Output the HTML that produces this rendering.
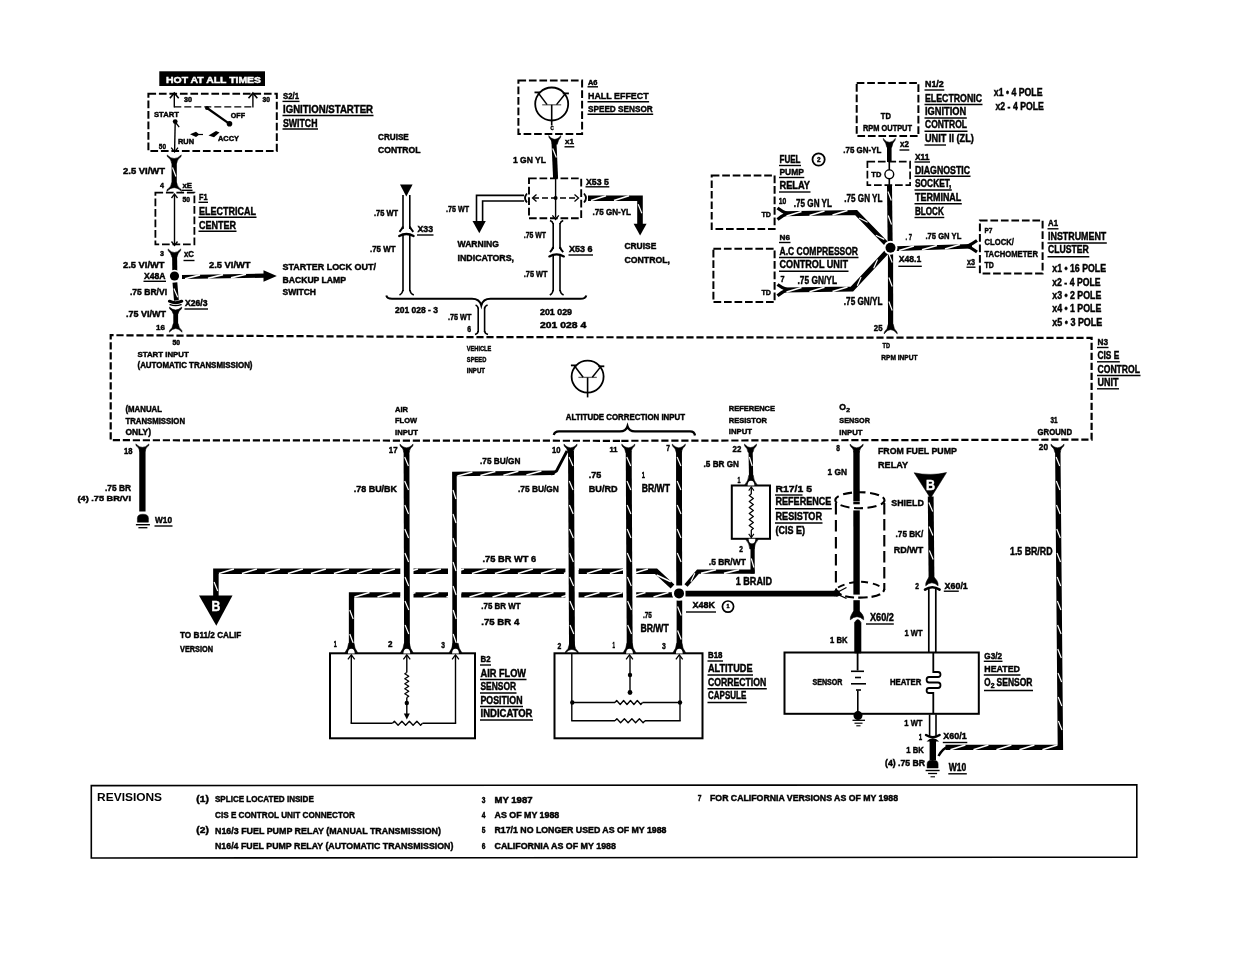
<!DOCTYPE html>
<html lang="en">
<head>
<meta charset="utf-8">
<title>CIS-E Control Unit Wiring Diagram</title>
<style>
html,body{margin:0;padding:0;background:#fff;}
body{width:1237px;height:954px;overflow:hidden;}
svg{display:block;filter:blur(.35px);}
.tn{font-family:"Liberation Sans",sans-serif;font-weight:bold;stroke-width:0;}
.t{font-family:"Liberation Sans",sans-serif;font-weight:bold;stroke-width:.45px;paint-order:stroke;}
</style>
</head>
<body>
<svg width="1237" height="954" viewBox="0 0 1237 954">
<rect x="0" y="0" width="1237" height="954" fill="#fff"/>
<rect x="159.3" y="71.3" width="105.7" height="14.7" fill="#000" stroke="#000" stroke-width="0"/>
<text class="t" x="166.0" y="82.5" font-size="9.9" fill="#fff" stroke="#fff" textLength="95.0" lengthAdjust="spacingAndGlyphs">HOT AT ALL TIMES</text>
<rect x="148.4" y="93.7" width="128.4" height="57.4" fill="none" stroke="#000" stroke-width="2.0" stroke-dasharray="7.7 2.8"/>
<line x1="174.3" y1="94.0" x2="174.3" y2="107.5" stroke="#000" stroke-width="1.4" stroke-linecap="butt"/>
<path d="M169.9,98.3 L174.3,92.9 L178.7,98.3" stroke="#000" stroke-width="1.6" fill="none" stroke-linejoin="miter" stroke-linecap="butt"/>
<line x1="252.9" y1="94.0" x2="252.9" y2="107.5" stroke="#000" stroke-width="1.4" stroke-linecap="butt"/>
<path d="M248.5,98.3 L252.9,92.9 L257.3,98.3" stroke="#000" stroke-width="1.6" fill="none" stroke-linejoin="miter" stroke-linecap="butt"/>
<text class="t" x="184.0" y="102.1" font-size="7.0" fill="#000" stroke="#000" textLength="8.0" lengthAdjust="spacingAndGlyphs">30</text>
<text class="t" x="262.5" y="102.1" font-size="7.0" fill="#000" stroke="#000" textLength="7.5" lengthAdjust="spacingAndGlyphs">30</text>
<line x1="174.3" y1="106.9" x2="253.0" y2="106.9" stroke="#000" stroke-width="1.4" stroke-dasharray="7 3" stroke-linecap="butt"/>
<text class="t" x="154.0" y="116.6" font-size="8.1" fill="#000" stroke="#000" textLength="25.0" lengthAdjust="spacingAndGlyphs">START</text>
<line x1="207.0" y1="108.0" x2="229.5" y2="123.8" stroke="#000" stroke-width="2.2" stroke-linecap="butt"/>
<circle cx="207.0" cy="108.0" r="2.0" fill="#000"/>
<circle cx="229.5" cy="123.8" r="2.8" fill="#000"/>
<text class="t" x="230.8" y="117.6" font-size="7.7" fill="#000" stroke="#000" textLength="14.2" lengthAdjust="spacingAndGlyphs">OFF</text>
<circle cx="175.2" cy="121.6" r="2.4" fill="#000"/>
<line x1="176.0" y1="123.0" x2="179.2" y2="127.2" stroke="#000" stroke-width="1.3" stroke-linecap="butt"/>
<line x1="175.2" y1="122.0" x2="174.6" y2="151.0" stroke="#000" stroke-width="1.4" stroke-linecap="butt"/>
<path d="M171.2,147.6 L174.6,152.0 L178.0,147.6" stroke="#000" stroke-width="1.3" fill="none" stroke-linejoin="miter" stroke-linecap="butt"/>
<text class="t" x="178.0" y="143.6" font-size="7.4" fill="#000" stroke="#000" textLength="16.0" lengthAdjust="spacingAndGlyphs">RUN</text>
<polygon points="190.0,134.3 196.0,131.8 199.5,134.5 196.0,137.0" fill="#000"/>
<line x1="199.0" y1="134.5" x2="203.0" y2="134.5" stroke="#000" stroke-width="1.2" stroke-linecap="butt"/>
<polygon points="208.5,135.5 216.0,131.0 219.5,132.5 214.0,137.2" fill="#000"/>
<text class="t" x="218.0" y="140.6" font-size="7.7" fill="#000" stroke="#000" textLength="21.0" lengthAdjust="spacingAndGlyphs">ACCY</text>
<text class="t" x="158.8" y="149.1" font-size="7.7" fill="#000" stroke="#000" textLength="7.2" lengthAdjust="spacingAndGlyphs">50</text>
<text class="t" x="283.0" y="99.0" font-size="9.5" fill="#000" stroke="#000" textLength="16.0" lengthAdjust="spacingAndGlyphs">S2/1</text>
<line x1="282.5" y1="101.4" x2="299.5" y2="101.4" stroke="#000" stroke-width="1.4"/>
<text class="t" x="283.0" y="113.2" font-size="10.6" fill="#000" stroke="#000" textLength="90.0" lengthAdjust="spacingAndGlyphs">IGNITION/STARTER</text>
<line x1="282.5" y1="115.5" x2="373.5" y2="115.5" stroke="#000" stroke-width="1.4"/>
<text class="t" x="283.0" y="126.6" font-size="10.5" fill="#000" stroke="#000" textLength="34.5" lengthAdjust="spacingAndGlyphs">SWITCH</text>
<line x1="282.5" y1="129.0" x2="318.0" y2="129.0" stroke="#000" stroke-width="1.4"/>
<path d="M167.1,154.9 Q174.2,162.1 181.3,154.9 L181.0,156.7 Q177.3,158.9 176.7,163.3 L171.7,163.3 Q171.1,158.9 167.4,156.7 Z" stroke="#000" stroke-width="0.5" fill="#000" stroke-linejoin="round" stroke-linecap="butt"/>
<path d="M174.2,161.5 L174.2,186.0" stroke="#000" stroke-width="5.2" fill="none" stroke-linejoin="miter" stroke-linecap="butt"/>
<line x1="172.5" y1="167.5" x2="175.9" y2="176.5" stroke="#fff" stroke-width="1.2" stroke-linecap="butt"/>
<path d="M166.8,191.4 Q174.2,183.9 181.6,191.4 L181.3,189.6 Q177.3,187.2 176.7,182.7 L171.7,182.7 Q171.1,187.2 167.1,189.6 Z" stroke="#000" stroke-width="0.5" fill="#000" stroke-linejoin="round" stroke-linecap="butt"/>
<text class="t" x="123.0" y="174.1" font-size="9.1" fill="#000" stroke="#000" textLength="42.0" lengthAdjust="spacingAndGlyphs">2.5 VI/WT</text>
<text class="t" x="160.0" y="187.6" font-size="8.1" fill="#000" stroke="#000" textLength="4.0" lengthAdjust="spacingAndGlyphs">4</text>
<text class="t" x="182.5" y="187.6" font-size="8.1" fill="#000" stroke="#000" textLength="9.5" lengthAdjust="spacingAndGlyphs">xE</text>
<line x1="182.0" y1="190.3" x2="192.5" y2="190.3" stroke="#000" stroke-width="1.4"/>
<rect x="155.4" y="192.6" width="39.0" height="51.8" fill="none" stroke="#000" stroke-width="1.8" stroke-dasharray="7.7 2.8"/>
<line x1="174.5" y1="195.0" x2="174.5" y2="244.0" stroke="#000" stroke-width="1.4" stroke-linecap="butt"/>
<path d="M171.5,198.0 L174.5,194.0 L177.5,198.0" stroke="#000" stroke-width="1.3" fill="none" stroke-linejoin="miter" stroke-linecap="butt"/>
<path d="M171.5,241.5 L174.5,245.5 L177.5,241.5" stroke="#000" stroke-width="1.3" fill="none" stroke-linejoin="miter" stroke-linecap="butt"/>
<text class="t" x="182.5" y="202.1" font-size="7.0" fill="#000" stroke="#000" textLength="7.5" lengthAdjust="spacingAndGlyphs">50</text>
<text class="t" x="199.0" y="200.1" font-size="9.1" fill="#000" stroke="#000" textLength="8.5" lengthAdjust="spacingAndGlyphs">F1</text>
<line x1="198.5" y1="202.3" x2="208.0" y2="202.3" stroke="#000" stroke-width="1.4"/>
<text class="t" x="199.0" y="214.6" font-size="10.9" fill="#000" stroke="#000" textLength="57.0" lengthAdjust="spacingAndGlyphs">ELECTRICAL</text>
<line x1="198.5" y1="217.3" x2="256.5" y2="217.3" stroke="#000" stroke-width="1.4"/>
<text class="t" x="199.0" y="228.6" font-size="10.9" fill="#000" stroke="#000" textLength="37.0" lengthAdjust="spacingAndGlyphs">CENTER</text>
<line x1="198.5" y1="231.3" x2="236.5" y2="231.3" stroke="#000" stroke-width="1.4"/>
<text class="t" x="160.0" y="255.6" font-size="8.1" fill="#000" stroke="#000" textLength="4.0" lengthAdjust="spacingAndGlyphs">3</text>
<path d="M168.0,248.9 Q174.4,256.1 180.8,248.9 L180.5,250.7 Q177.5,252.9 176.9,257.3 L171.9,257.3 Q171.3,252.9 168.3,250.7 Z" stroke="#000" stroke-width="0.5" fill="#000" stroke-linejoin="round" stroke-linecap="butt"/>
<path d="M174.6,255.5 L174.8,271.0" stroke="#000" stroke-width="5.0" fill="none" stroke-linejoin="miter" stroke-linecap="butt"/>
<text class="t" x="184.0" y="256.6" font-size="8.4" fill="#000" stroke="#000" textLength="10.0" lengthAdjust="spacingAndGlyphs">xC</text>
<line x1="183.5" y1="260.5" x2="194.5" y2="260.5" stroke="#000" stroke-width="1.4"/>
<text class="t" x="123.0" y="267.6" font-size="9.5" fill="#000" stroke="#000" textLength="41.5" lengthAdjust="spacingAndGlyphs">2.5 VI/WT</text>
<text class="t" x="144.0" y="278.6" font-size="8.7" fill="#000" stroke="#000" textLength="21.5" lengthAdjust="spacingAndGlyphs">X48A</text>
<line x1="143.5" y1="281.3" x2="166.0" y2="281.3" stroke="#000" stroke-width="1.4"/>
<circle cx="174.5" cy="276.0" r="6.3" fill="#fff"/>
<circle cx="174.5" cy="276.0" r="4.6" fill="#000"/>
<path d="M182.0,277.0 L266.0,275.6" stroke="#000" stroke-width="4.2" fill="none" stroke-linejoin="miter" stroke-linecap="butt"/>
<line x1="185.0" y1="278.7" x2="200.0" y2="274.9" stroke="#fff" stroke-width="1.6" stroke-linecap="butt"/>
<line x1="208.0" y1="278.3" x2="223.0" y2="274.6" stroke="#fff" stroke-width="1.6" stroke-linecap="butt"/>
<line x1="231.0" y1="277.9" x2="246.0" y2="274.2" stroke="#fff" stroke-width="1.6" stroke-linecap="butt"/>
<polygon points="263.5,270.3 276.8,276.0 263.5,281.8" fill="#000"/>
<text class="t" x="209.0" y="267.6" font-size="9.5" fill="#000" stroke="#000" textLength="41.5" lengthAdjust="spacingAndGlyphs">2.5 VI/WT</text>
<text class="t" x="282.5" y="270.1" font-size="9.2" fill="#000" stroke="#000" textLength="93.5" lengthAdjust="spacingAndGlyphs">STARTER LOCK OUT/</text>
<text class="t" x="282.5" y="282.6" font-size="8.7" fill="#000" stroke="#000" textLength="63.5" lengthAdjust="spacingAndGlyphs">BACKUP LAMP</text>
<text class="t" x="282.5" y="295.3" font-size="8.9" fill="#000" stroke="#000" textLength="33.5" lengthAdjust="spacingAndGlyphs">SWITCH</text>
<text class="t" x="130.0" y="295.1" font-size="9.1" fill="#000" stroke="#000" textLength="37.0" lengthAdjust="spacingAndGlyphs">.75 BR/VI</text>
<path d="M174.9,282.5 L176.4,300.5" stroke="#000" stroke-width="4.8" fill="none" stroke-linejoin="miter" stroke-linecap="butt"/>
<line x1="173.9" y1="288.6" x2="177.7" y2="297.3" stroke="#fff" stroke-width="1.2" stroke-linecap="butt"/>
<path d="M169.4,301.2 Q175.6,304.2 181.8,301.2" stroke="#000" stroke-width="3.0" fill="none" stroke-linejoin="miter" stroke-linecap="round"/>
<path d="M170.0,304.6 Q175.6,306.6 181.2,304.6" stroke="#000" stroke-width="1.2" fill="none" stroke-linejoin="miter" stroke-linecap="round"/>
<path d="M169.4,307.1 Q175.6,312.7 181.8,307.1 L181.5,308.9 Q178.7,310.2 178.1,313.8 L173.1,313.8 Q172.5,310.2 169.7,308.9 Z" stroke="#000" stroke-width="0.5" fill="#000" stroke-linejoin="round" stroke-linecap="butt"/>
<text class="t" x="185.0" y="305.6" font-size="8.4" fill="#000" stroke="#000" textLength="22.5" lengthAdjust="spacingAndGlyphs">X26/3</text>
<line x1="184.5" y1="309.0" x2="208.0" y2="309.0" stroke="#000" stroke-width="1.4"/>
<text class="t" x="126.0" y="317.1" font-size="9.1" fill="#000" stroke="#000" textLength="40.0" lengthAdjust="spacingAndGlyphs">.75 VI/WT</text>
<path d="M175.7,312.0 L175.7,327.0" stroke="#000" stroke-width="4.8" fill="none" stroke-linejoin="miter" stroke-linecap="butt"/>
<text class="t" x="156.0" y="329.6" font-size="8.1" fill="#000" stroke="#000" textLength="9.0" lengthAdjust="spacingAndGlyphs">16</text>
<path d="M169.3,332.2 Q175.7,324.9 182.1,332.2 L181.8,330.4 Q178.8,328.1 178.2,323.7 L173.2,323.7 Q172.6,328.1 169.6,330.4 Z" stroke="#000" stroke-width="0.5" fill="#000" stroke-linejoin="round" stroke-linecap="butt"/>
<path d="M620,440.8 L110.7,440.2 L110.7,335.2 L480,337.1 L1091.6,337.9 L1091.6,439.6 Z" stroke="#000" stroke-width="2.2" fill="none" stroke-dasharray="7.2 2.8" stroke-linejoin="miter" stroke-linecap="butt"/>
<text class="t" x="172.5" y="344.6" font-size="6.3" fill="#000" stroke="#000" textLength="7.5" lengthAdjust="spacingAndGlyphs">50</text>
<text class="t" x="137.5" y="357.1" font-size="8.1" fill="#000" stroke="#000" textLength="51.3" lengthAdjust="spacingAndGlyphs">START INPUT</text>
<text class="t" x="137.5" y="368.4" font-size="8.4" fill="#000" stroke="#000" textLength="115.0" lengthAdjust="spacingAndGlyphs">(AUTOMATIC TRANSMISSION)</text>
<text class="t" x="125.5" y="412.1" font-size="8.4" fill="#000" stroke="#000" textLength="36.5" lengthAdjust="spacingAndGlyphs">(MANUAL</text>
<text class="t" x="125.5" y="423.6" font-size="8.4" fill="#000" stroke="#000" textLength="59.5" lengthAdjust="spacingAndGlyphs">TRANSMISSION</text>
<text class="t" x="125.5" y="434.6" font-size="8.4" fill="#000" stroke="#000" textLength="25.5" lengthAdjust="spacingAndGlyphs">ONLY)</text>
<text class="t" x="466.8" y="350.9" font-size="7.8" fill="#000" stroke="#000" textLength="24.5" lengthAdjust="spacingAndGlyphs">VEHICLE</text>
<text class="t" x="466.8" y="361.6" font-size="7.8" fill="#000" stroke="#000" textLength="19.5" lengthAdjust="spacingAndGlyphs">SPEED</text>
<text class="t" x="466.8" y="372.6" font-size="7.3" fill="#000" stroke="#000" textLength="18.2" lengthAdjust="spacingAndGlyphs">INPUT</text>
<circle cx="587.6" cy="376.6" r="16.0" fill="none" stroke="#000" stroke-width="1.8"/>
<line x1="578.4" y1="377.4" x2="596.8" y2="377.4" stroke="#666" stroke-width="1.3" stroke-linecap="butt"/>
<line x1="587.6" y1="377.4" x2="587.6" y2="397.4" stroke="#000" stroke-width="1.6" stroke-linecap="butt"/>
<line x1="574.4" y1="365.7" x2="583.1" y2="377.2" stroke="#000" stroke-width="1.5" stroke-linecap="butt"/>
<line x1="601.2" y1="366.1" x2="592.3" y2="377.2" stroke="#000" stroke-width="1.5" stroke-linecap="butt"/>
<line x1="570.9" y1="365.4" x2="576.4" y2="365.4" stroke="#000" stroke-width="1.8" stroke-linecap="butt"/>
<line x1="598.3" y1="366.3" x2="604.3" y2="366.3" stroke="#000" stroke-width="1.8" stroke-linecap="butt"/>
<text class="t" x="395.0" y="411.6" font-size="8.1" fill="#000" stroke="#000" textLength="13.0" lengthAdjust="spacingAndGlyphs">AIR</text>
<text class="t" x="395.0" y="423.4" font-size="8.1" fill="#000" stroke="#000" textLength="22.0" lengthAdjust="spacingAndGlyphs">FLOW</text>
<text class="t" x="395.0" y="435.1" font-size="8.1" fill="#000" stroke="#000" textLength="23.0" lengthAdjust="spacingAndGlyphs">INPUT</text>
<text class="t" x="565.8" y="420.1" font-size="8.4" fill="#000" stroke="#000" textLength="119.2" lengthAdjust="spacingAndGlyphs">ALTITUDE CORRECTION INPUT</text>
<path d="M553.8,435 Q554.5,431.3 559,431.3 L620,431.3 Q626,431.3 627.5,426.3 Q629,431.3 635,431.3 L690,431.3 Q694.5,431.3 695,435.5" stroke="#000" stroke-width="2.3" fill="none" stroke-linejoin="miter" stroke-linecap="butt"/>
<text class="t" x="728.8" y="410.9" font-size="8.1" fill="#000" stroke="#000" textLength="46.2" lengthAdjust="spacingAndGlyphs">REFERENCE</text>
<text class="t" x="728.8" y="422.6" font-size="8.1" fill="#000" stroke="#000" textLength="38.2" lengthAdjust="spacingAndGlyphs">RESISTOR</text>
<text class="t" x="728.8" y="434.1" font-size="8.1" fill="#000" stroke="#000" textLength="23.2" lengthAdjust="spacingAndGlyphs">INPUT</text>
<text class="t" x="839.3" y="409.8" font-size="8.4" fill="#000" stroke="#000" textLength="6.7" lengthAdjust="spacingAndGlyphs">O</text>
<text class="t" x="846.3" y="411.8" font-size="5.9" fill="#000" stroke="#000" textLength="3.7" lengthAdjust="spacingAndGlyphs">2</text>
<text class="t" x="839.3" y="422.6" font-size="8.1" fill="#000" stroke="#000" textLength="30.7" lengthAdjust="spacingAndGlyphs">SENSOR</text>
<text class="t" x="839.3" y="434.6" font-size="8.1" fill="#000" stroke="#000" textLength="23.2" lengthAdjust="spacingAndGlyphs">INPUT</text>
<text class="t" x="1050.6" y="423.0" font-size="8.4" fill="#000" stroke="#000" textLength="7.0" lengthAdjust="spacingAndGlyphs">31</text>
<text class="t" x="1037.5" y="434.6" font-size="8.4" fill="#000" stroke="#000" textLength="34.5" lengthAdjust="spacingAndGlyphs">GROUND</text>
<text class="t" x="882.5" y="348.4" font-size="7.8" fill="#000" stroke="#000" textLength="7.5" lengthAdjust="spacingAndGlyphs">TD</text>
<text class="t" x="881.3" y="359.6" font-size="7.8" fill="#000" stroke="#000" textLength="36.2" lengthAdjust="spacingAndGlyphs">RPM INPUT</text>
<text class="t" x="1097.5" y="344.6" font-size="9.5" fill="#000" stroke="#000" textLength="10.5" lengthAdjust="spacingAndGlyphs">N3</text>
<line x1="1097.0" y1="347.5" x2="1108.5" y2="347.5" stroke="#000" stroke-width="1.4"/>
<text class="t" x="1097.5" y="358.9" font-size="10.5" fill="#000" stroke="#000" textLength="21.8" lengthAdjust="spacingAndGlyphs">CIS E</text>
<line x1="1097.0" y1="361.8" x2="1119.8" y2="361.8" stroke="#000" stroke-width="1.4"/>
<text class="t" x="1097.5" y="372.6" font-size="10.9" fill="#000" stroke="#000" textLength="42.5" lengthAdjust="spacingAndGlyphs">CONTROL</text>
<line x1="1097.0" y1="375.5" x2="1140.5" y2="375.5" stroke="#000" stroke-width="1.4"/>
<text class="t" x="1097.5" y="385.9" font-size="10.5" fill="#000" stroke="#000" textLength="21.0" lengthAdjust="spacingAndGlyphs">UNIT</text>
<line x1="1097.0" y1="388.8" x2="1119.0" y2="388.8" stroke="#000" stroke-width="1.4"/>
<path d="M215.9,597.0 L215.9,571.3 L656.0,571.3 L672.5,586.5" stroke="#000" stroke-width="5.5" fill="none" stroke-linejoin="miter" stroke-linecap="butt"/>
<line x1="217.7" y1="591.0" x2="214.1" y2="582.0" stroke="#fff" stroke-width="1.2" stroke-linecap="butt"/>
<line x1="218.9" y1="573.6" x2="233.9" y2="569.0" stroke="#fff" stroke-width="1.6" stroke-linecap="butt"/>
<line x1="241.9" y1="573.6" x2="256.9" y2="569.0" stroke="#fff" stroke-width="1.6" stroke-linecap="butt"/>
<line x1="264.9" y1="573.6" x2="279.9" y2="569.0" stroke="#fff" stroke-width="1.6" stroke-linecap="butt"/>
<line x1="287.9" y1="573.6" x2="302.9" y2="569.0" stroke="#fff" stroke-width="1.6" stroke-linecap="butt"/>
<line x1="310.9" y1="573.6" x2="325.9" y2="569.0" stroke="#fff" stroke-width="1.6" stroke-linecap="butt"/>
<line x1="333.9" y1="573.6" x2="348.9" y2="569.0" stroke="#fff" stroke-width="1.6" stroke-linecap="butt"/>
<line x1="356.9" y1="573.6" x2="371.9" y2="569.0" stroke="#fff" stroke-width="1.6" stroke-linecap="butt"/>
<line x1="379.9" y1="573.6" x2="394.9" y2="569.0" stroke="#fff" stroke-width="1.6" stroke-linecap="butt"/>
<line x1="402.9" y1="573.6" x2="417.9" y2="569.0" stroke="#fff" stroke-width="1.6" stroke-linecap="butt"/>
<line x1="425.9" y1="573.6" x2="440.9" y2="569.0" stroke="#fff" stroke-width="1.6" stroke-linecap="butt"/>
<line x1="448.9" y1="573.6" x2="463.9" y2="569.0" stroke="#fff" stroke-width="1.6" stroke-linecap="butt"/>
<line x1="471.9" y1="573.6" x2="486.9" y2="569.0" stroke="#fff" stroke-width="1.6" stroke-linecap="butt"/>
<line x1="494.9" y1="573.6" x2="509.9" y2="569.0" stroke="#fff" stroke-width="1.6" stroke-linecap="butt"/>
<line x1="517.9" y1="573.6" x2="532.9" y2="569.0" stroke="#fff" stroke-width="1.6" stroke-linecap="butt"/>
<line x1="540.9" y1="573.6" x2="555.9" y2="569.0" stroke="#fff" stroke-width="1.6" stroke-linecap="butt"/>
<line x1="563.9" y1="573.6" x2="578.9" y2="569.0" stroke="#fff" stroke-width="1.6" stroke-linecap="butt"/>
<line x1="586.9" y1="573.6" x2="601.9" y2="569.0" stroke="#fff" stroke-width="1.6" stroke-linecap="butt"/>
<line x1="609.9" y1="573.6" x2="624.9" y2="569.0" stroke="#fff" stroke-width="1.6" stroke-linecap="butt"/>
<line x1="632.9" y1="573.6" x2="647.9" y2="569.0" stroke="#fff" stroke-width="1.6" stroke-linecap="butt"/>
<line x1="656.6" y1="575.0" x2="670.8" y2="581.8" stroke="#fff" stroke-width="1.6" stroke-linecap="butt"/>
<path d="M351.5,649.0 L351.5,594.8 L673.0,594.8" stroke="#000" stroke-width="5.3" fill="none" stroke-linejoin="miter" stroke-linecap="butt"/>
<line x1="353.2" y1="643.0" x2="349.8" y2="634.0" stroke="#fff" stroke-width="1.2" stroke-linecap="butt"/>
<line x1="353.2" y1="619.0" x2="349.8" y2="610.0" stroke="#fff" stroke-width="1.2" stroke-linecap="butt"/>
<line x1="354.5" y1="597.0" x2="369.5" y2="592.6" stroke="#fff" stroke-width="1.6" stroke-linecap="butt"/>
<line x1="377.5" y1="597.0" x2="392.5" y2="592.6" stroke="#fff" stroke-width="1.6" stroke-linecap="butt"/>
<line x1="400.5" y1="597.0" x2="415.5" y2="592.6" stroke="#fff" stroke-width="1.6" stroke-linecap="butt"/>
<line x1="423.5" y1="597.0" x2="438.5" y2="592.6" stroke="#fff" stroke-width="1.6" stroke-linecap="butt"/>
<line x1="446.5" y1="597.0" x2="461.5" y2="592.6" stroke="#fff" stroke-width="1.6" stroke-linecap="butt"/>
<line x1="469.5" y1="597.0" x2="484.5" y2="592.6" stroke="#fff" stroke-width="1.6" stroke-linecap="butt"/>
<line x1="492.5" y1="597.0" x2="507.5" y2="592.6" stroke="#fff" stroke-width="1.6" stroke-linecap="butt"/>
<line x1="515.5" y1="597.0" x2="530.5" y2="592.6" stroke="#fff" stroke-width="1.6" stroke-linecap="butt"/>
<line x1="538.5" y1="597.0" x2="553.5" y2="592.6" stroke="#fff" stroke-width="1.6" stroke-linecap="butt"/>
<line x1="561.5" y1="597.0" x2="576.5" y2="592.6" stroke="#fff" stroke-width="1.6" stroke-linecap="butt"/>
<line x1="584.5" y1="597.0" x2="599.5" y2="592.6" stroke="#fff" stroke-width="1.6" stroke-linecap="butt"/>
<line x1="607.5" y1="597.0" x2="622.5" y2="592.6" stroke="#fff" stroke-width="1.6" stroke-linecap="butt"/>
<line x1="630.5" y1="597.0" x2="645.5" y2="592.6" stroke="#fff" stroke-width="1.6" stroke-linecap="butt"/>
<line x1="653.5" y1="597.0" x2="668.5" y2="592.6" stroke="#fff" stroke-width="1.6" stroke-linecap="butt"/>
<rect x="400.3" y="566.0" width="13.2" height="34.0" fill="#fff" stroke="#000" stroke-width="0"/>
<rect x="448.0" y="566.0" width="13.2" height="34.0" fill="#fff" stroke="#000" stroke-width="0"/>
<rect x="565.4" y="566.0" width="13.2" height="34.0" fill="#fff" stroke="#000" stroke-width="0"/>
<rect x="623.0" y="566.0" width="13.2" height="34.0" fill="#fff" stroke="#000" stroke-width="0"/>
<rect x="673.0" y="566.0" width="12.4" height="14.0" fill="#fff" stroke="#000" stroke-width="0"/>
<text class="t" x="124.0" y="453.6" font-size="8.7" fill="#000" stroke="#000" textLength="8.5" lengthAdjust="spacingAndGlyphs">18</text>
<path d="M135.8,443.9 Q142.4,450.7 149.0,443.9 L148.7,445.7 Q145.5,447.6 144.9,451.8 L139.9,451.8 Q139.3,447.6 136.1,445.7 Z" stroke="#000" stroke-width="0.5" fill="#000" stroke-linejoin="round" stroke-linecap="butt"/>
<path d="M142.4,449.5 L142.4,511.5" stroke="#000" stroke-width="6.3" fill="none" stroke-linejoin="miter" stroke-linecap="butt"/>
<text class="t" x="105.0" y="490.6" font-size="9.5" fill="#000" stroke="#000" textLength="26.0" lengthAdjust="spacingAndGlyphs">.75 BR</text>
<text class="t" x="77.5" y="500.6" font-size="7.8" fill="#000" stroke="#000" textLength="53.5" lengthAdjust="spacingAndGlyphs">(4) .75 BR/VI</text>
<path d="M137.4,522.2 L137.4,518.2 Q137.4,514.2 142.9,514.2 Q148.4,514.2 148.4,518.2 L148.4,522.2 Z" stroke="#000" stroke-width="0.5" fill="#000" stroke-linejoin="miter" stroke-linecap="butt"/>
<line x1="135.9" y1="524.7" x2="149.9" y2="524.7" stroke="#000" stroke-width="1.4" stroke-linecap="butt"/>
<line x1="138.4" y1="527.7" x2="147.4" y2="527.7" stroke="#000" stroke-width="1.3" stroke-linecap="butt"/>
<text class="t" x="155.0" y="522.6" font-size="9.5" fill="#000" stroke="#000" textLength="17.0" lengthAdjust="spacingAndGlyphs">W10</text>
<line x1="154.5" y1="526.0" x2="172.5" y2="526.0" stroke="#000" stroke-width="1.4"/>
<text class="t" x="388.8" y="452.6" font-size="9.1" fill="#000" stroke="#000" textLength="8.7" lengthAdjust="spacingAndGlyphs">17</text>
<path d="M399.9,444.1 Q406.5,451.6 413.1,444.1 L412.8,445.9 Q409.6,448.2 409.0,452.8 L404.0,452.8 Q403.4,448.2 400.2,445.9 Z" stroke="#000" stroke-width="0.5" fill="#000" stroke-linejoin="round" stroke-linecap="butt"/>
<path d="M406.5,451.0 L407.0,649.0" stroke="#000" stroke-width="5.8" fill="none" stroke-linejoin="miter" stroke-linecap="butt"/>
<line x1="404.7" y1="457.0" x2="408.4" y2="466.0" stroke="#fff" stroke-width="1.2" stroke-linecap="butt"/>
<line x1="404.7" y1="481.0" x2="408.5" y2="490.0" stroke="#fff" stroke-width="1.2" stroke-linecap="butt"/>
<line x1="404.8" y1="505.0" x2="408.5" y2="514.0" stroke="#fff" stroke-width="1.2" stroke-linecap="butt"/>
<line x1="404.8" y1="529.0" x2="408.6" y2="538.0" stroke="#fff" stroke-width="1.2" stroke-linecap="butt"/>
<line x1="404.9" y1="553.0" x2="408.6" y2="562.0" stroke="#fff" stroke-width="1.2" stroke-linecap="butt"/>
<line x1="405.0" y1="577.0" x2="408.7" y2="586.0" stroke="#fff" stroke-width="1.2" stroke-linecap="butt"/>
<line x1="405.0" y1="601.0" x2="408.8" y2="610.0" stroke="#fff" stroke-width="1.2" stroke-linecap="butt"/>
<line x1="405.1" y1="625.0" x2="408.8" y2="634.0" stroke="#fff" stroke-width="1.2" stroke-linecap="butt"/>
<text class="t" x="353.8" y="491.6" font-size="9.1" fill="#000" stroke="#000" textLength="43.2" lengthAdjust="spacingAndGlyphs">.78 BU/BK</text>
<text class="t" x="480.0" y="464.1" font-size="9.5" fill="#000" stroke="#000" textLength="40.5" lengthAdjust="spacingAndGlyphs">.75 BU/GN</text>
<path d="M454.7,649.0 L454.4,474.0 L554.5,472.8" stroke="#000" stroke-width="4.6" fill="none" stroke-linejoin="miter" stroke-linecap="butt"/>
<line x1="456.2" y1="643.0" x2="453.2" y2="634.0" stroke="#fff" stroke-width="1.2" stroke-linecap="butt"/>
<line x1="456.1" y1="619.0" x2="453.2" y2="610.0" stroke="#fff" stroke-width="1.2" stroke-linecap="butt"/>
<line x1="456.1" y1="595.0" x2="453.1" y2="586.0" stroke="#fff" stroke-width="1.2" stroke-linecap="butt"/>
<line x1="456.0" y1="571.0" x2="453.1" y2="562.0" stroke="#fff" stroke-width="1.2" stroke-linecap="butt"/>
<line x1="456.0" y1="547.0" x2="453.0" y2="538.0" stroke="#fff" stroke-width="1.2" stroke-linecap="butt"/>
<line x1="456.0" y1="523.0" x2="453.0" y2="514.0" stroke="#fff" stroke-width="1.2" stroke-linecap="butt"/>
<line x1="455.9" y1="499.0" x2="453.0" y2="490.0" stroke="#fff" stroke-width="1.2" stroke-linecap="butt"/>
<line x1="457.4" y1="475.9" x2="472.4" y2="471.9" stroke="#fff" stroke-width="1.6" stroke-linecap="butt"/>
<line x1="480.4" y1="475.6" x2="495.4" y2="471.6" stroke="#fff" stroke-width="1.6" stroke-linecap="butt"/>
<line x1="503.4" y1="475.3" x2="518.4" y2="471.3" stroke="#fff" stroke-width="1.6" stroke-linecap="butt"/>
<line x1="526.4" y1="475.1" x2="541.4" y2="471.0" stroke="#fff" stroke-width="1.6" stroke-linecap="butt"/>
<path d="M551,474.2 L556.5,471 L567,451" stroke="#000" stroke-width="2.8" fill="none" stroke-linejoin="round" stroke-linecap="butt"/>
<text class="t" x="518.0" y="492.1" font-size="9.5" fill="#000" stroke="#000" textLength="40.8" lengthAdjust="spacingAndGlyphs">.75 BU/GN</text>
<text class="t" x="552.0" y="452.6" font-size="9.1" fill="#000" stroke="#000" textLength="8.5" lengthAdjust="spacingAndGlyphs">10</text>
<path d="M563.9,444.1 Q570.5,451.6 577.1,444.1 L576.8,445.9 Q573.6,448.2 573.0,452.8 L568.0,452.8 Q567.4,448.2 564.2,445.9 Z" stroke="#000" stroke-width="0.5" fill="#000" stroke-linejoin="round" stroke-linecap="butt"/>
<path d="M571.0,451.0 L572.0,649.0" stroke="#000" stroke-width="5.9" fill="none" stroke-linejoin="miter" stroke-linecap="butt"/>
<line x1="569.1" y1="457.0" x2="573.0" y2="466.0" stroke="#fff" stroke-width="1.2" stroke-linecap="butt"/>
<line x1="569.3" y1="481.0" x2="573.1" y2="490.0" stroke="#fff" stroke-width="1.2" stroke-linecap="butt"/>
<line x1="569.4" y1="505.0" x2="573.2" y2="514.0" stroke="#fff" stroke-width="1.2" stroke-linecap="butt"/>
<line x1="569.5" y1="529.0" x2="573.3" y2="538.0" stroke="#fff" stroke-width="1.2" stroke-linecap="butt"/>
<line x1="569.6" y1="553.0" x2="573.4" y2="562.0" stroke="#fff" stroke-width="1.2" stroke-linecap="butt"/>
<line x1="569.7" y1="577.0" x2="573.6" y2="586.0" stroke="#fff" stroke-width="1.2" stroke-linecap="butt"/>
<line x1="569.9" y1="601.0" x2="573.7" y2="610.0" stroke="#fff" stroke-width="1.2" stroke-linecap="butt"/>
<line x1="570.0" y1="625.0" x2="573.8" y2="634.0" stroke="#fff" stroke-width="1.2" stroke-linecap="butt"/>
<text class="t" x="588.8" y="478.4" font-size="8.7" fill="#000" stroke="#000" textLength="12.5" lengthAdjust="spacingAndGlyphs">.75</text>
<text class="t" x="588.8" y="492.1" font-size="9.5" fill="#000" stroke="#000" textLength="28.7" lengthAdjust="spacingAndGlyphs">BU/RD</text>
<text class="t" x="609.5" y="451.6" font-size="7.8" fill="#000" stroke="#000" textLength="8.0" lengthAdjust="spacingAndGlyphs">11</text>
<path d="M621.7,444.1 Q628.3,451.6 634.9,444.1 L634.6,445.9 Q631.4,448.2 630.8,452.8 L625.8,452.8 Q625.2,448.2 622.0,445.9 Z" stroke="#000" stroke-width="0.5" fill="#000" stroke-linejoin="round" stroke-linecap="butt"/>
<path d="M628.7,451.0 L629.7,649.0" stroke="#000" stroke-width="5.9" fill="none" stroke-linejoin="miter" stroke-linecap="butt"/>
<line x1="626.8" y1="457.0" x2="630.7" y2="466.0" stroke="#fff" stroke-width="1.2" stroke-linecap="butt"/>
<line x1="627.0" y1="481.0" x2="630.8" y2="490.0" stroke="#fff" stroke-width="1.2" stroke-linecap="butt"/>
<line x1="627.1" y1="505.0" x2="630.9" y2="514.0" stroke="#fff" stroke-width="1.2" stroke-linecap="butt"/>
<line x1="627.2" y1="529.0" x2="631.0" y2="538.0" stroke="#fff" stroke-width="1.2" stroke-linecap="butt"/>
<line x1="627.3" y1="553.0" x2="631.1" y2="562.0" stroke="#fff" stroke-width="1.2" stroke-linecap="butt"/>
<line x1="627.4" y1="577.0" x2="631.3" y2="586.0" stroke="#fff" stroke-width="1.2" stroke-linecap="butt"/>
<line x1="627.6" y1="601.0" x2="631.4" y2="610.0" stroke="#fff" stroke-width="1.2" stroke-linecap="butt"/>
<line x1="627.7" y1="625.0" x2="631.5" y2="634.0" stroke="#fff" stroke-width="1.2" stroke-linecap="butt"/>
<text class="t" x="666.3" y="450.9" font-size="8.4" fill="#000" stroke="#000" textLength="3.7" lengthAdjust="spacingAndGlyphs">7</text>
<path d="M672.2,444.1 Q678.8,451.6 685.4,444.1 L685.1,445.9 Q681.9,448.2 681.3,452.8 L676.3,452.8 Q675.7,448.2 672.5,445.9 Z" stroke="#000" stroke-width="0.5" fill="#000" stroke-linejoin="round" stroke-linecap="butt"/>
<path d="M679.0,451.0 L679.2,585.5" stroke="#000" stroke-width="5.9" fill="none" stroke-linejoin="miter" stroke-linecap="butt"/>
<line x1="677.1" y1="457.0" x2="680.9" y2="466.0" stroke="#fff" stroke-width="1.2" stroke-linecap="butt"/>
<line x1="677.2" y1="481.0" x2="680.9" y2="490.0" stroke="#fff" stroke-width="1.2" stroke-linecap="butt"/>
<line x1="677.2" y1="505.0" x2="681.0" y2="514.0" stroke="#fff" stroke-width="1.2" stroke-linecap="butt"/>
<line x1="677.2" y1="529.0" x2="681.0" y2="538.0" stroke="#fff" stroke-width="1.2" stroke-linecap="butt"/>
<line x1="677.3" y1="553.0" x2="681.1" y2="562.0" stroke="#fff" stroke-width="1.2" stroke-linecap="butt"/>
<path d="M679.4,600.5 L679.4,649.0" stroke="#000" stroke-width="5.6" fill="none" stroke-linejoin="miter" stroke-linecap="butt"/>
<line x1="677.6" y1="606.5" x2="681.2" y2="615.5" stroke="#fff" stroke-width="1.2" stroke-linecap="butt"/>
<line x1="677.6" y1="630.5" x2="681.2" y2="639.5" stroke="#fff" stroke-width="1.2" stroke-linecap="butt"/>
<text class="t" x="641.8" y="477.6" font-size="9.1" fill="#000" stroke="#000" textLength="3.2" lengthAdjust="spacingAndGlyphs">1</text>
<text class="t" x="641.8" y="492.1" font-size="10.1" fill="#000" stroke="#000" textLength="28.2" lengthAdjust="spacingAndGlyphs">BR/WT</text>
<polygon points="199.0,595.5 232.5,595.5 216.3,625.8" fill="#000"/>
<text class="t" x="211.6" y="611.2" font-size="14.2" fill="#fff" stroke="#fff" textLength="8.8" lengthAdjust="spacingAndGlyphs">B</text>
<text class="t" x="180.0" y="638.2" font-size="9.1" fill="#000" stroke="#000" textLength="61.3" lengthAdjust="spacingAndGlyphs">TO B11/2 CALIF</text>
<text class="t" x="180.0" y="651.9" font-size="8.7" fill="#000" stroke="#000" textLength="33.0" lengthAdjust="spacingAndGlyphs">VERSION</text>
<text class="t" x="482.5" y="561.6" font-size="9.5" fill="#000" stroke="#000" textLength="53.8" lengthAdjust="spacingAndGlyphs">.75 BR WT  6</text>
<text class="t" x="481.3" y="608.9" font-size="9.2" fill="#000" stroke="#000" textLength="39.2" lengthAdjust="spacingAndGlyphs">.75 BR WT</text>
<text class="t" x="481.3" y="624.6" font-size="9.5" fill="#000" stroke="#000" textLength="38.0" lengthAdjust="spacingAndGlyphs">.75 BR   4</text>
<circle cx="679.0" cy="593.4" r="7.2" fill="#fff"/>
<circle cx="679.0" cy="593.4" r="5.0" fill="#000"/>
<path d="M685.5,593.6 L835.0,593.6" stroke="#000" stroke-width="5.8" fill="none" stroke-linejoin="miter" stroke-linecap="butt"/>
<circle cx="836.5" cy="593.3" r="3.4" fill="#000"/>
<line x1="836.0" y1="593.0" x2="846.5" y2="587.5" stroke="#000" stroke-width="1.3" stroke-linecap="butt"/>
<line x1="836.0" y1="593.6" x2="846.5" y2="598.5" stroke="#000" stroke-width="1.3" stroke-linecap="butt"/>
<text class="t" x="735.8" y="584.6" font-size="10.1" fill="#000" stroke="#000" textLength="36.2" lengthAdjust="spacingAndGlyphs">1 BRAID</text>
<path d="M686.0,585.5 L698.0,571.6 L754.6,571.6" stroke="#000" stroke-width="4.2" fill="none" stroke-linejoin="miter" stroke-linecap="butt"/>
<line x1="690.9" y1="581.8" x2="694.8" y2="573.3" stroke="#fff" stroke-width="1.2" stroke-linecap="butt"/>
<line x1="701.0" y1="573.4" x2="716.0" y2="569.8" stroke="#fff" stroke-width="1.6" stroke-linecap="butt"/>
<line x1="724.0" y1="573.4" x2="739.0" y2="569.8" stroke="#fff" stroke-width="1.6" stroke-linecap="butt"/>
<path d="M752.6,573.5 L752.6,544.0" stroke="#000" stroke-width="4.2" fill="none" stroke-linejoin="miter" stroke-linecap="butt"/>
<line x1="753.9" y1="567.5" x2="751.3" y2="558.5" stroke="#fff" stroke-width="1.2" stroke-linecap="butt"/>
<text class="t" x="692.5" y="607.6" font-size="9.2" fill="#000" stroke="#000" textLength="22.5" lengthAdjust="spacingAndGlyphs">X48K</text>
<line x1="686.0" y1="612.0" x2="716.0" y2="612.0" stroke="#000" stroke-width="1.4"/>
<circle cx="728.0" cy="606.6" r="5.6" fill="#fff" stroke="#000" stroke-width="1.7"/>
<text class="t" x="726.6" y="608.2" font-size="6.1" fill="#000" stroke="#000" textLength="3.0" lengthAdjust="spacingAndGlyphs">1</text>
<text class="t" x="643.0" y="617.6" font-size="9.2" fill="#000" stroke="#000" textLength="8.8" lengthAdjust="spacingAndGlyphs">.75</text>
<text class="t" x="640.5" y="632.1" font-size="10.1" fill="#000" stroke="#000" textLength="28.3" lengthAdjust="spacingAndGlyphs">BR/WT</text>
<rect x="330.0" y="653.3" width="145.0" height="85.0" fill="none" stroke="#000" stroke-width="2.0"/>
<path d="M348.6,643.3 Q348.2,648.8 344.9,652.7 L357.7,652.7 Q354.4,648.8 354.0,643.3 Z" stroke="#000" stroke-width="0.5" fill="#000" stroke-linejoin="round" stroke-linecap="butt"/>
<path d="M347.9,653.5 Q347.9,648.7 351.3,648.7 Q354.7,648.7 354.7,653.5 Z" stroke="#000" stroke-width="0" fill="#fff" stroke-linejoin="miter" stroke-linecap="butt"/>
<path d="M347.9,659.3 L351.3,654.9 L354.7,659.3" stroke="#000" stroke-width="1.3" fill="none" stroke-linejoin="miter" stroke-linecap="butt"/>
<path d="M404.1,643.3 Q403.7,648.8 400.4,652.7 L413.2,652.7 Q409.9,648.8 409.5,643.3 Z" stroke="#000" stroke-width="0.5" fill="#000" stroke-linejoin="round" stroke-linecap="butt"/>
<path d="M403.4,653.5 Q403.4,648.7 406.8,648.7 Q410.2,648.7 410.2,653.5 Z" stroke="#000" stroke-width="0" fill="#fff" stroke-linejoin="miter" stroke-linecap="butt"/>
<path d="M403.4,659.3 L406.8,654.9 L410.2,659.3" stroke="#000" stroke-width="1.3" fill="none" stroke-linejoin="miter" stroke-linecap="butt"/>
<path d="M452.8,643.3 Q452.4,648.8 449.1,652.7 L461.9,652.7 Q458.6,648.8 458.2,643.3 Z" stroke="#000" stroke-width="0.5" fill="#000" stroke-linejoin="round" stroke-linecap="butt"/>
<path d="M452.1,653.5 Q452.1,648.7 455.5,648.7 Q458.9,648.7 458.9,653.5 Z" stroke="#000" stroke-width="0" fill="#fff" stroke-linejoin="miter" stroke-linecap="butt"/>
<path d="M452.1,659.3 L455.5,654.9 L458.9,659.3" stroke="#000" stroke-width="1.3" fill="none" stroke-linejoin="miter" stroke-linecap="butt"/>
<text class="t" x="333.8" y="646.6" font-size="8.9" fill="#000" stroke="#000" textLength="3.0" lengthAdjust="spacingAndGlyphs">1</text>
<text class="t" x="388.0" y="647.1" font-size="9.5" fill="#000" stroke="#000" textLength="4.5" lengthAdjust="spacingAndGlyphs">2</text>
<text class="t" x="441.3" y="647.6" font-size="9.5" fill="#000" stroke="#000" textLength="3.7" lengthAdjust="spacingAndGlyphs">3</text>
<line x1="351.3" y1="656.0" x2="351.3" y2="723.3" stroke="#000" stroke-width="1.4" stroke-linecap="butt"/>
<line x1="455.5" y1="656.0" x2="455.5" y2="723.3" stroke="#000" stroke-width="1.4" stroke-linecap="butt"/>
<line x1="350.6" y1="723.3" x2="392.5" y2="723.3" stroke="#000" stroke-width="1.4" stroke-linecap="butt"/>
<path d="M392.5,723.3 L394.4,721.3 L398.1,725.3 L401.9,721.3 L405.6,725.3 L409.4,721.3 L413.1,725.3 L416.9,721.3 L420.6,725.3 L422.5,723.3" stroke="#000" stroke-width="1.3" fill="none" stroke-linejoin="round" stroke-linecap="butt"/>
<line x1="422.5" y1="723.3" x2="456.2" y2="723.3" stroke="#000" stroke-width="1.4" stroke-linecap="butt"/>
<line x1="406.8" y1="656.0" x2="406.8" y2="672.5" stroke="#000" stroke-width="1.4" stroke-linecap="butt"/>
<path d="M406.8,672.5 L404.8,673.8 L408.8,676.2 L404.8,678.8 L408.8,681.2 L404.8,683.8 L408.8,686.2 L404.8,688.8 L408.8,691.2 L404.8,693.8 L408.8,696.2 L406.8,697.5" stroke="#000" stroke-width="1.3" fill="none" stroke-linejoin="round" stroke-linecap="butt"/>
<line x1="406.8" y1="697.5" x2="406.8" y2="717.0" stroke="#000" stroke-width="1.4" stroke-linecap="butt"/>
<circle cx="406.8" cy="703.0" r="2.2" fill="#000"/>
<polygon points="403.8,713.5 409.8,713.5 406.8,719.5" fill="#000"/>
<text class="t" x="480.5" y="662.1" font-size="9.1" fill="#000" stroke="#000" textLength="10.0" lengthAdjust="spacingAndGlyphs">B2</text>
<line x1="480.0" y1="665.0" x2="491.0" y2="665.0" stroke="#000" stroke-width="1.4"/>
<text class="t" x="480.5" y="676.6" font-size="10.6" fill="#000" stroke="#000" textLength="45.5" lengthAdjust="spacingAndGlyphs">AIR FLOW</text>
<line x1="480.0" y1="679.5" x2="526.5" y2="679.5" stroke="#000" stroke-width="1.4"/>
<text class="t" x="480.5" y="690.1" font-size="10.5" fill="#000" stroke="#000" textLength="35.5" lengthAdjust="spacingAndGlyphs">SENSOR</text>
<line x1="480.0" y1="693.0" x2="516.5" y2="693.0" stroke="#000" stroke-width="1.4"/>
<text class="t" x="480.5" y="703.6" font-size="10.3" fill="#000" stroke="#000" textLength="42.0" lengthAdjust="spacingAndGlyphs">POSITION</text>
<line x1="480.0" y1="706.5" x2="523.0" y2="706.5" stroke="#000" stroke-width="1.4"/>
<text class="t" x="480.5" y="717.1" font-size="10.5" fill="#000" stroke="#000" textLength="52.0" lengthAdjust="spacingAndGlyphs">INDICATOR</text>
<line x1="480.0" y1="720.0" x2="533.0" y2="720.0" stroke="#000" stroke-width="1.4"/>
<rect x="554.5" y="653.3" width="148.0" height="85.0" fill="none" stroke="#000" stroke-width="2.0"/>
<path d="M565.2,653.4 Q571.8,645.4 578.4,653.4 L578.1,651.6 Q574.9,649.0 574.3,644.2 L569.3,644.2 Q568.7,649.0 565.5,651.6 Z" stroke="#000" stroke-width="0.5" fill="#000" stroke-linejoin="round" stroke-linecap="butt"/>
<path d="M626.8,643.3 Q626.4,648.8 623.1,652.7 L635.9,652.7 Q632.6,648.8 632.2,643.3 Z" stroke="#000" stroke-width="0.5" fill="#000" stroke-linejoin="round" stroke-linecap="butt"/>
<path d="M626.1,653.5 Q626.1,648.7 629.5,648.7 Q632.9,648.7 632.9,653.5 Z" stroke="#000" stroke-width="0" fill="#fff" stroke-linejoin="miter" stroke-linecap="butt"/>
<path d="M626.1,659.3 L629.5,654.9 L632.9,659.3" stroke="#000" stroke-width="1.3" fill="none" stroke-linejoin="miter" stroke-linecap="butt"/>
<path d="M676.6,643.3 Q676.2,648.8 672.9,652.7 L685.7,652.7 Q682.4,648.8 682.0,643.3 Z" stroke="#000" stroke-width="0.5" fill="#000" stroke-linejoin="round" stroke-linecap="butt"/>
<path d="M675.9,653.5 Q675.9,648.7 679.3,648.7 Q682.7,648.7 682.7,653.5 Z" stroke="#000" stroke-width="0" fill="#fff" stroke-linejoin="miter" stroke-linecap="butt"/>
<path d="M675.9,659.3 L679.3,654.9 L682.7,659.3" stroke="#000" stroke-width="1.3" fill="none" stroke-linejoin="miter" stroke-linecap="butt"/>
<text class="t" x="557.5" y="649.1" font-size="9.8" fill="#000" stroke="#000" textLength="3.8" lengthAdjust="spacingAndGlyphs">2</text>
<text class="t" x="612.5" y="647.6" font-size="9.2" fill="#000" stroke="#000" textLength="2.5" lengthAdjust="spacingAndGlyphs">1</text>
<text class="t" x="662.0" y="648.6" font-size="9.5" fill="#000" stroke="#000" textLength="3.8" lengthAdjust="spacingAndGlyphs">3</text>
<line x1="571.8" y1="654.0" x2="571.8" y2="720.8" stroke="#000" stroke-width="1.4" stroke-linecap="butt"/>
<circle cx="572.3" cy="702.5" r="2.2" fill="#000"/>
<circle cx="680.0" cy="702.5" r="2.2" fill="#000"/>
<line x1="572.0" y1="702.5" x2="615.0" y2="702.5" stroke="#000" stroke-width="1.4" stroke-linecap="butt"/>
<path d="M615.0,702.5 L616.7,700.5 L620.2,704.5 L623.6,700.5 L627.0,704.5 L630.5,700.5 L633.9,704.5 L637.3,700.5 L640.8,704.5 L642.5,702.5" stroke="#000" stroke-width="1.3" fill="none" stroke-linejoin="round" stroke-linecap="butt"/>
<line x1="642.5" y1="702.5" x2="680.0" y2="702.5" stroke="#000" stroke-width="1.4" stroke-linecap="butt"/>
<line x1="571.2" y1="720.8" x2="615.0" y2="720.8" stroke="#000" stroke-width="1.4" stroke-linecap="butt"/>
<path d="M615.0,720.8 L616.9,718.8 L620.6,722.8 L624.4,718.8 L628.1,722.8 L631.9,718.8 L635.6,722.8 L639.4,718.8 L643.1,722.8 L645.0,720.8" stroke="#000" stroke-width="1.3" fill="none" stroke-linejoin="round" stroke-linecap="butt"/>
<line x1="645.0" y1="720.8" x2="680.7" y2="720.8" stroke="#000" stroke-width="1.4" stroke-linecap="butt"/>
<line x1="680.0" y1="656.0" x2="680.0" y2="720.8" stroke="#000" stroke-width="1.4" stroke-linecap="butt"/>
<line x1="630.0" y1="656.0" x2="630.0" y2="692.5" stroke="#000" stroke-width="1.4" stroke-linecap="butt"/>
<circle cx="630.0" cy="675.0" r="2.2" fill="#000"/>
<circle cx="630.0" cy="692.5" r="2.4" fill="#000"/>
<text class="t" x="708.0" y="658.4" font-size="8.7" fill="#000" stroke="#000" textLength="14.5" lengthAdjust="spacingAndGlyphs">B18</text>
<line x1="707.5" y1="661.0" x2="723.0" y2="661.0" stroke="#000" stroke-width="1.4"/>
<text class="t" x="708.0" y="672.1" font-size="10.5" fill="#000" stroke="#000" textLength="44.5" lengthAdjust="spacingAndGlyphs">ALTITUDE</text>
<line x1="707.5" y1="675.0" x2="753.0" y2="675.0" stroke="#000" stroke-width="1.4"/>
<text class="t" x="708.0" y="685.9" font-size="10.5" fill="#000" stroke="#000" textLength="58.3" lengthAdjust="spacingAndGlyphs">CORRECTION</text>
<line x1="707.5" y1="688.8" x2="766.8" y2="688.8" stroke="#000" stroke-width="1.4"/>
<text class="t" x="708.0" y="699.1" font-size="10.5" fill="#000" stroke="#000" textLength="38.3" lengthAdjust="spacingAndGlyphs">CAPSULE</text>
<line x1="707.5" y1="702.5" x2="746.8" y2="702.5" stroke="#000" stroke-width="1.4"/>
<text class="t" x="732.5" y="451.6" font-size="9.8" fill="#000" stroke="#000" textLength="8.8" lengthAdjust="spacingAndGlyphs">22</text>
<path d="M744.4,444.1 Q750.5,451.1 756.6,444.1 L756.3,445.9 Q753.6,448.0 753.0,452.3 L748.0,452.3 Q747.4,448.0 744.7,445.9 Z" stroke="#000" stroke-width="0.5" fill="#000" stroke-linejoin="round" stroke-linecap="butt"/>
<path d="M750.6,451.0 L751.2,482.0" stroke="#000" stroke-width="4.2" fill="none" stroke-linejoin="miter" stroke-linecap="butt"/>
<line x1="749.4" y1="457.0" x2="752.2" y2="466.0" stroke="#fff" stroke-width="1.2" stroke-linecap="butt"/>
<text class="t" x="703.6" y="467.4" font-size="9.2" fill="#000" stroke="#000" textLength="35.4" lengthAdjust="spacingAndGlyphs">.5 BR GN</text>
<text class="t" x="737.5" y="482.6" font-size="8.4" fill="#000" stroke="#000" textLength="3.0" lengthAdjust="spacingAndGlyphs">1</text>
<rect x="731.8" y="485.5" width="38.2" height="53.3" fill="none" stroke="#000" stroke-width="2.0"/>
<path d="M748.8,475.3 Q748.4,480.8 744.8,484.7 L757.2,484.7 Q753.6,480.8 753.2,475.3 Z" stroke="#000" stroke-width="0.5" fill="#000" stroke-linejoin="round" stroke-linecap="butt"/>
<path d="M747.6,485.5 Q747.6,480.7 751.0,480.7 Q754.4,480.7 754.4,485.5 Z" stroke="#000" stroke-width="0" fill="#fff" stroke-linejoin="miter" stroke-linecap="butt"/>
<path d="M749.8,549.0 Q749.4,543.5 745.8,539.6 L758.2,539.6 Q754.6,543.5 754.2,549.0 Z" stroke="#000" stroke-width="0.5" fill="#000" stroke-linejoin="round" stroke-linecap="butt"/>
<path d="M748.6,538.8 Q748.6,543.6 752.0,543.6 Q755.4,543.6 755.4,538.8 Z" stroke="#000" stroke-width="0" fill="#fff" stroke-linejoin="miter" stroke-linecap="butt"/>
<line x1="751.3" y1="487.0" x2="751.3" y2="494.0" stroke="#000" stroke-width="1.3" stroke-linecap="butt"/>
<path d="M751.3,494.0 L749.3,495.5 L753.3,498.5 L749.3,501.5 L753.3,504.5 L749.3,507.5 L753.3,510.5 L749.3,513.5 L753.3,516.5 L749.3,519.5 L753.3,522.5 L749.3,525.5 L753.3,528.5 L751.3,530.0" stroke="#000" stroke-width="1.3" fill="none" stroke-linejoin="round" stroke-linecap="butt"/>
<line x1="751.3" y1="530.0" x2="751.3" y2="537.5" stroke="#000" stroke-width="1.3" stroke-linecap="butt"/>
<path d="M748.7,490.6 L751.3,487.0 L753.9,490.6" stroke="#000" stroke-width="1.1" fill="none" stroke-linejoin="miter" stroke-linecap="butt"/>
<path d="M748.7,533.9 L751.3,537.5 L753.9,533.9" stroke="#000" stroke-width="1.1" fill="none" stroke-linejoin="miter" stroke-linecap="butt"/>
<text class="t" x="739.3" y="551.6" font-size="9.1" fill="#000" stroke="#000" textLength="3.7" lengthAdjust="spacingAndGlyphs">2</text>
<text class="t" x="708.8" y="564.6" font-size="9.8" fill="#000" stroke="#000" textLength="37.0" lengthAdjust="spacingAndGlyphs">.5 BR/WT</text>
<text class="t" x="775.5" y="492.1" font-size="9.8" fill="#000" stroke="#000" textLength="36.5" lengthAdjust="spacingAndGlyphs">R17/1  5</text>
<line x1="775.0" y1="495.0" x2="802.5" y2="495.0" stroke="#000" stroke-width="1.4"/>
<text class="t" x="775.5" y="505.1" font-size="10.5" fill="#000" stroke="#000" textLength="55.8" lengthAdjust="spacingAndGlyphs">REFERENCE</text>
<line x1="775.0" y1="508.8" x2="831.8" y2="508.8" stroke="#000" stroke-width="1.4"/>
<text class="t" x="775.5" y="519.6" font-size="10.5" fill="#000" stroke="#000" textLength="46.5" lengthAdjust="spacingAndGlyphs">RESISTOR</text>
<line x1="775.0" y1="523.0" x2="822.5" y2="523.0" stroke="#000" stroke-width="1.4"/>
<text class="t" x="775.5" y="534.1" font-size="10.5" fill="#000" stroke="#000" textLength="29.5" lengthAdjust="spacingAndGlyphs">(CIS E)</text>
<text class="t" x="836.3" y="451.4" font-size="9.2" fill="#000" stroke="#000" textLength="3.7" lengthAdjust="spacingAndGlyphs">8</text>
<path d="M850.0,444.1 Q856.6,451.6 863.2,444.1 L862.9,445.9 Q859.7,448.2 859.1,452.8 L854.1,452.8 Q853.5,448.2 850.3,445.9 Z" stroke="#000" stroke-width="0.5" fill="#000" stroke-linejoin="round" stroke-linecap="butt"/>
<path d="M856.5,451.0 L856.6,612.0" stroke="#000" stroke-width="6.4" fill="none" stroke-linejoin="miter" stroke-linecap="butt"/>
<text class="t" x="827.5" y="474.8" font-size="9.5" fill="#000" stroke="#000" textLength="19.5" lengthAdjust="spacingAndGlyphs">1 GN</text>
<rect x="851.0" y="504.3" width="11.0" height="6.1" fill="#fff" stroke="#000" stroke-width="0"/>
<ellipse cx="859.9" cy="500.2" rx="24.6" ry="8" fill="none" stroke="#000" stroke-width="2.1" stroke-dasharray="9 4.5" stroke-dashoffset="3"/>
<rect x="851.0" y="501.0" width="11.0" height="0.5" fill="#fff" stroke="#000" stroke-width="0"/>
<line x1="835.9" y1="503.0" x2="835.9" y2="588.0" stroke="#000" stroke-width="2.1" stroke-dasharray="11.5 5.5" stroke-linecap="butt"/>
<line x1="884.3" y1="503.0" x2="884.3" y2="590.0" stroke="#000" stroke-width="2.1" stroke-dasharray="11.5 4.5" stroke-linecap="butt"/>
<rect x="851.0" y="594.6" width="11.0" height="5.6" fill="#fff" stroke="#000" stroke-width="0"/>
<path d="M838,587.5 Q860,576 882.5,587.5" stroke="#000" stroke-width="1.9" fill="none" stroke-dasharray="7 5" stroke-linejoin="miter" stroke-linecap="butt"/>
<path d="M835.9,588.5 Q837,597.6 859.9,597.6 Q883,597.6 884.3,589" stroke="#000" stroke-width="2.1" fill="none" stroke-dasharray="9 4" stroke-linejoin="miter" stroke-linecap="butt"/>
<path d="M853.3,611.5 L851.6,614.5 Q850,617 850.3,619.8 Q857,613.6 863.7,619.8 Q864,617 862.4,614.5 L859.9,611.5 Z" stroke="#000" stroke-width="0.6" fill="#000" stroke-linejoin="miter" stroke-linecap="butt"/>
<path d="M854.6,653 L854.6,622.4 Q857.8,616.8 861.0,622.4 L861.0,653 Z" stroke="#000" stroke-width="0.6" fill="#000" stroke-linejoin="miter" stroke-linecap="butt"/>
<text class="t" x="870.0" y="621.1" font-size="10.1" fill="#000" stroke="#000" textLength="23.8" lengthAdjust="spacingAndGlyphs">X60/2</text>
<line x1="866.0" y1="624.0" x2="893.8" y2="624.0" stroke="#000" stroke-width="1.4"/>
<text class="t" x="830.0" y="643.4" font-size="9.5" fill="#000" stroke="#000" textLength="17.5" lengthAdjust="spacingAndGlyphs">1 BK</text>
<text class="t" x="878.0" y="454.1" font-size="9.8" fill="#000" stroke="#000" textLength="78.8" lengthAdjust="spacingAndGlyphs">FROM FUEL PUMP</text>
<text class="t" x="878.0" y="467.6" font-size="9.5" fill="#000" stroke="#000" textLength="30.0" lengthAdjust="spacingAndGlyphs">RELAY</text>
<path d="M914.2,472.8 Q922,474.6 930.3,474.4 Q939,474.6 946.5,472.6 L930.5,498.2 Z" stroke="#000" stroke-width="0.6" fill="#000" stroke-linejoin="miter" stroke-linecap="butt"/>
<text class="t" x="925.9" y="489.8" font-size="15.1" fill="#fff" stroke="#fff" textLength="9.1" lengthAdjust="spacingAndGlyphs">B</text>
<path d="M930.7,496.5 L931.5,578.0" stroke="#000" stroke-width="5.8" fill="none" stroke-linejoin="miter" stroke-linecap="butt"/>
<line x1="928.9" y1="502.5" x2="932.7" y2="511.5" stroke="#fff" stroke-width="1.2" stroke-linecap="butt"/>
<line x1="929.1" y1="526.5" x2="932.9" y2="535.5" stroke="#fff" stroke-width="1.2" stroke-linecap="butt"/>
<line x1="929.4" y1="550.5" x2="933.2" y2="559.5" stroke="#fff" stroke-width="1.2" stroke-linecap="butt"/>
<text class="t" x="891.3" y="506.4" font-size="9.8" fill="#000" stroke="#000" textLength="32.5" lengthAdjust="spacingAndGlyphs">SHIELD</text>
<text class="t" x="895.6" y="536.8" font-size="9.9" fill="#000" stroke="#000" textLength="27.6" lengthAdjust="spacingAndGlyphs">.75 BK/</text>
<text class="t" x="893.8" y="552.9" font-size="9.8" fill="#000" stroke="#000" textLength="29.4" lengthAdjust="spacingAndGlyphs">RD/WT</text>
<text class="t" x="915.2" y="588.5" font-size="8.9" fill="#000" stroke="#000" textLength="3.7" lengthAdjust="spacingAndGlyphs">2</text>
<path d="M928.7,577.5 L927,580.5 Q925.4,583 925.7,585.8 Q931.9,579.8 938.1,585.8 Q938.4,583 936.8,580.5 L934.4,577.5 Z" stroke="#000" stroke-width="0.6" fill="#000" stroke-linejoin="miter" stroke-linecap="butt"/>
<path d="M925.0,589.6 Q932.3,584.8 939.6,589.6" stroke="#000" stroke-width="2.6" fill="none" stroke-linejoin="miter" stroke-linecap="round"/>
<line x1="928.8" y1="587.5" x2="928.8" y2="653.0" stroke="#000" stroke-width="1.7" stroke-linecap="butt"/>
<line x1="935.8" y1="587.5" x2="935.8" y2="653.0" stroke="#000" stroke-width="1.7" stroke-linecap="butt"/>
<text class="t" x="944.6" y="588.5" font-size="9.5" fill="#000" stroke="#000" textLength="23.2" lengthAdjust="spacingAndGlyphs">X60/1</text>
<line x1="943.8" y1="591.2" x2="958.8" y2="591.2" stroke="#000" stroke-width="1.4"/>
<text class="t" x="904.5" y="635.6" font-size="9.2" fill="#000" stroke="#000" textLength="18.0" lengthAdjust="spacingAndGlyphs">1 WT</text>
<rect x="784.5" y="652.5" width="194.3" height="61.3" fill="none" stroke="#000" stroke-width="2.0"/>
<line x1="857.6" y1="653.0" x2="857.6" y2="670.5" stroke="#000" stroke-width="1.8" stroke-linecap="butt"/>
<line x1="851.0" y1="671.3" x2="864.0" y2="671.3" stroke="#000" stroke-width="1.6" stroke-linecap="butt"/>
<line x1="855.0" y1="677.5" x2="861.0" y2="677.5" stroke="#000" stroke-width="1.6" stroke-linecap="butt"/>
<line x1="851.0" y1="683.8" x2="866.0" y2="683.8" stroke="#000" stroke-width="1.6" stroke-linecap="butt"/>
<line x1="856.0" y1="690.0" x2="861.0" y2="690.0" stroke="#000" stroke-width="1.6" stroke-linecap="butt"/>
<line x1="857.8" y1="690.5" x2="857.8" y2="712.5" stroke="#000" stroke-width="1.6" stroke-linecap="butt"/>
<circle cx="858.0" cy="715.6" r="4.5" fill="#000"/>
<line x1="852.5" y1="720.3" x2="865.0" y2="720.3" stroke="#000" stroke-width="1.3" stroke-linecap="butt"/>
<line x1="854.5" y1="723.2" x2="862.5" y2="723.2" stroke="#000" stroke-width="1.2" stroke-linecap="butt"/>
<line x1="856.3" y1="725.8" x2="860.5" y2="725.8" stroke="#000" stroke-width="1.1" stroke-linecap="butt"/>
<text class="t" x="812.5" y="685.1" font-size="8.4" fill="#000" stroke="#000" textLength="30.0" lengthAdjust="spacingAndGlyphs">SENSOR</text>
<text class="t" x="890.0" y="685.1" font-size="8.4" fill="#000" stroke="#000" textLength="31.3" lengthAdjust="spacingAndGlyphs">HEATER</text>
<path d="M933.3,653 L933.3,672 L938,672 Q940.5,672 940.5,674.5 Q940.5,677 938,677 L929,677 Q926.6,677 926.6,679.8 Q926.6,682.5 929,682.5 L938,682.5 Q940.5,682.5 940.5,685.3 Q940.5,688 938,688 L929,688 Q926.6,688 926.6,690.5 Q926.6,693 929,693 L933.3,693 L933.3,713" stroke="#000" stroke-width="1.8" fill="none" stroke-linejoin="miter" stroke-linecap="butt"/>
<line x1="929.6" y1="714.5" x2="929.6" y2="736.5" stroke="#000" stroke-width="1.6" stroke-linecap="butt"/>
<line x1="936.0" y1="714.5" x2="936.0" y2="736.5" stroke="#000" stroke-width="1.6" stroke-linecap="butt"/>
<path d="M926.0,735.0 Q932.8,739.4 939.6,735.0" stroke="#000" stroke-width="2.4" fill="none" stroke-linejoin="miter" stroke-linecap="round"/>
<path d="M926.5,741.5 Q932.8,735 939.2,741.5 Z" stroke="#000" stroke-width="0" fill="#000" stroke-linejoin="miter" stroke-linecap="butt"/>
<path d="M932.8,740.5 L932.8,760.0" stroke="#000" stroke-width="6.4" fill="none" stroke-linejoin="miter" stroke-linecap="butt"/>
<text class="t" x="904.3" y="725.6" font-size="9.2" fill="#000" stroke="#000" textLength="18.2" lengthAdjust="spacingAndGlyphs">1 WT</text>
<text class="t" x="918.8" y="739.6" font-size="8.9" fill="#000" stroke="#000" textLength="3.4" lengthAdjust="spacingAndGlyphs">1</text>
<text class="t" x="943.3" y="739.1" font-size="9.8" fill="#000" stroke="#000" textLength="23.5" lengthAdjust="spacingAndGlyphs">X60/1</text>
<line x1="942.8" y1="742.5" x2="967.3" y2="742.5" stroke="#000" stroke-width="1.4"/>
<text class="t" x="906.3" y="753.4" font-size="9.5" fill="#000" stroke="#000" textLength="17.5" lengthAdjust="spacingAndGlyphs">1 BK</text>
<text class="t" x="885.0" y="765.9" font-size="8.4" fill="#000" stroke="#000" textLength="40.0" lengthAdjust="spacingAndGlyphs">(4) .75 BR</text>
<path d="M927.1,768.0 L927.1,764.0 Q927.1,760.0 932.6,760.0 Q938.1,760.0 938.1,764.0 L938.1,768.0 Z" stroke="#000" stroke-width="0.5" fill="#000" stroke-linejoin="miter" stroke-linecap="butt"/>
<line x1="925.6" y1="770.5" x2="939.6" y2="770.5" stroke="#000" stroke-width="1.4" stroke-linecap="butt"/>
<line x1="928.1" y1="773.5" x2="937.1" y2="773.5" stroke="#000" stroke-width="1.3" stroke-linecap="butt"/>
<line x1="930.5" y1="776.8" x2="935.0" y2="776.8" stroke="#000" stroke-width="1.1" stroke-linecap="butt"/>
<text class="t" x="948.8" y="770.6" font-size="10.1" fill="#000" stroke="#000" textLength="17.5" lengthAdjust="spacingAndGlyphs">W10</text>
<line x1="948.3" y1="773.8" x2="966.8" y2="773.8" stroke="#000" stroke-width="1.4"/>
<text class="t" x="984.3" y="658.9" font-size="9.5" fill="#000" stroke="#000" textLength="17.7" lengthAdjust="spacingAndGlyphs">G3/2</text>
<line x1="983.8" y1="661.3" x2="1002.5" y2="661.3" stroke="#000" stroke-width="1.4"/>
<text class="t" x="984.3" y="672.1" font-size="9.8" fill="#000" stroke="#000" textLength="35.7" lengthAdjust="spacingAndGlyphs">HEATED</text>
<line x1="983.8" y1="675.0" x2="1020.5" y2="675.0" stroke="#000" stroke-width="1.4"/>
<text class="t" x="984.3" y="685.6" font-size="10.2" fill="#000" stroke="#000" textLength="6.3" lengthAdjust="spacingAndGlyphs">O</text>
<text class="t" x="990.8" y="688.2" font-size="6.4" fill="#000" stroke="#000" textLength="3.8" lengthAdjust="spacingAndGlyphs">2</text>
<text class="t" x="996.6" y="685.6" font-size="10.2" fill="#000" stroke="#000" textLength="35.9" lengthAdjust="spacingAndGlyphs">SENSOR</text>
<line x1="984.0" y1="690.5" x2="1033.0" y2="690.5" stroke="#000" stroke-width="1.4" stroke-linecap="butt"/>
<text class="t" x="1038.8" y="450.4" font-size="9.8" fill="#000" stroke="#000" textLength="9.2" lengthAdjust="spacingAndGlyphs">20</text>
<path d="M1050.9,444.1 Q1057.5,451.6 1064.1,444.1 L1063.8,445.9 Q1060.6,448.2 1060.0,452.8 L1055.0,452.8 Q1054.4,448.2 1051.2,445.9 Z" stroke="#000" stroke-width="0.5" fill="#000" stroke-linejoin="round" stroke-linecap="butt"/>
<path d="M1057.8,451.0 L1060.4,747.4 L945.5,747.4" stroke="#000" stroke-width="5.4" fill="none" stroke-linejoin="miter" stroke-linecap="butt"/>
<line x1="1056.1" y1="457.0" x2="1059.7" y2="466.0" stroke="#fff" stroke-width="1.2" stroke-linecap="butt"/>
<line x1="1056.3" y1="481.0" x2="1059.9" y2="490.0" stroke="#fff" stroke-width="1.2" stroke-linecap="butt"/>
<line x1="1056.5" y1="505.0" x2="1060.1" y2="514.0" stroke="#fff" stroke-width="1.2" stroke-linecap="butt"/>
<line x1="1056.8" y1="529.0" x2="1060.3" y2="538.0" stroke="#fff" stroke-width="1.2" stroke-linecap="butt"/>
<line x1="1057.0" y1="553.0" x2="1060.5" y2="562.0" stroke="#fff" stroke-width="1.2" stroke-linecap="butt"/>
<line x1="1057.2" y1="577.0" x2="1060.7" y2="586.0" stroke="#fff" stroke-width="1.2" stroke-linecap="butt"/>
<line x1="1057.4" y1="601.0" x2="1060.9" y2="610.0" stroke="#fff" stroke-width="1.2" stroke-linecap="butt"/>
<line x1="1057.6" y1="625.0" x2="1061.1" y2="634.0" stroke="#fff" stroke-width="1.2" stroke-linecap="butt"/>
<line x1="1057.8" y1="649.0" x2="1061.3" y2="658.0" stroke="#fff" stroke-width="1.2" stroke-linecap="butt"/>
<line x1="1058.0" y1="673.0" x2="1061.6" y2="682.0" stroke="#fff" stroke-width="1.2" stroke-linecap="butt"/>
<line x1="1058.2" y1="697.0" x2="1061.8" y2="706.0" stroke="#fff" stroke-width="1.2" stroke-linecap="butt"/>
<line x1="1058.4" y1="721.0" x2="1062.0" y2="730.0" stroke="#fff" stroke-width="1.2" stroke-linecap="butt"/>
<line x1="1057.4" y1="745.1" x2="1042.4" y2="749.7" stroke="#fff" stroke-width="1.6" stroke-linecap="butt"/>
<line x1="1034.4" y1="745.1" x2="1019.4" y2="749.7" stroke="#fff" stroke-width="1.6" stroke-linecap="butt"/>
<line x1="1011.4" y1="745.1" x2="996.4" y2="749.7" stroke="#fff" stroke-width="1.6" stroke-linecap="butt"/>
<line x1="988.4" y1="745.1" x2="973.4" y2="749.7" stroke="#fff" stroke-width="1.6" stroke-linecap="butt"/>
<line x1="965.4" y1="745.1" x2="950.4" y2="749.7" stroke="#fff" stroke-width="1.6" stroke-linecap="butt"/>
<path d="M948,747 Q943,748 938.5,756" stroke="#000" stroke-width="2.4" fill="none" stroke-linejoin="miter" stroke-linecap="butt"/>
<text class="t" x="1010.0" y="554.6" font-size="10.3" fill="#000" stroke="#000" textLength="42.5" lengthAdjust="spacingAndGlyphs">1.5 BR/RD</text>
<text class="t" x="378.0" y="140.0" font-size="9.2" fill="#000" stroke="#000" textLength="30.8" lengthAdjust="spacingAndGlyphs">CRUISE</text>
<text class="t" x="378.0" y="152.6" font-size="8.7" fill="#000" stroke="#000" textLength="42.5" lengthAdjust="spacingAndGlyphs">CONTROL</text>
<polygon points="400.0,184.5 412.6,184.5 406.3,196.5" fill="#000"/>
<line x1="403.0" y1="195.0" x2="403.0" y2="229.0" stroke="#000" stroke-width="1.6" stroke-linecap="butt"/>
<line x1="409.8" y1="195.0" x2="409.8" y2="229.0" stroke="#000" stroke-width="1.6" stroke-linecap="butt"/>
<path d="M399.5,231.8 Q402.5,228.5 403,226.5" stroke="#000" stroke-width="2.0" fill="none" stroke-linejoin="miter" stroke-linecap="butt"/>
<path d="M413.3,231.8 Q410.3,228.5 409.8,226.5" stroke="#000" stroke-width="2.0" fill="none" stroke-linejoin="miter" stroke-linecap="butt"/>
<path d="M399.2,236.0 Q406.4,232.0 413.6,236.0" stroke="#000" stroke-width="2.3" fill="none" stroke-linejoin="miter" stroke-linecap="round"/>
<line x1="403.0" y1="234.0" x2="403.0" y2="291.0" stroke="#000" stroke-width="1.6" stroke-linecap="butt"/>
<line x1="409.8" y1="234.0" x2="409.8" y2="291.0" stroke="#000" stroke-width="1.6" stroke-linecap="butt"/>
<path d="M403,290 Q402.5,293.5 399.5,295" stroke="#000" stroke-width="1.6" fill="none" stroke-linejoin="miter" stroke-linecap="butt"/>
<path d="M409.8,290 Q410.3,293.5 413.8,295" stroke="#000" stroke-width="1.6" fill="none" stroke-linejoin="miter" stroke-linecap="butt"/>
<text class="t" x="374.0" y="215.6" font-size="8.4" fill="#000" stroke="#000" textLength="24.0" lengthAdjust="spacingAndGlyphs">.75 WT</text>
<text class="t" x="417.5" y="231.6" font-size="9.1" fill="#000" stroke="#000" textLength="15.5" lengthAdjust="spacingAndGlyphs">X33</text>
<line x1="417.0" y1="235.0" x2="433.5" y2="235.0" stroke="#000" stroke-width="1.4"/>
<text class="t" x="370.0" y="251.6" font-size="8.9" fill="#000" stroke="#000" textLength="25.5" lengthAdjust="spacingAndGlyphs">.75 WT</text>
<path d="M386.3,295.5 Q387,298.8 392,298.8 L472,298.8 Q479.5,298.8 481.3,305.5 Q483,298.8 490.5,298.8 L580.5,298.8 Q585.5,298.8 586.3,295.5" stroke="#000" stroke-width="2.0" fill="none" stroke-linejoin="miter" stroke-linecap="butt"/>
<text class="t" x="395.0" y="312.6" font-size="8.7" fill="#000" stroke="#000" textLength="43.0" lengthAdjust="spacingAndGlyphs">201 028 - 3</text>
<text class="t" x="540.0" y="314.6" font-size="8.7" fill="#000" stroke="#000" textLength="32.0" lengthAdjust="spacingAndGlyphs">201 029</text>
<text class="t" x="540.0" y="327.9" font-size="8.7" fill="#000" stroke="#000" textLength="46.3" lengthAdjust="spacingAndGlyphs">201 028   4</text>
<text class="t" x="448.0" y="320.1" font-size="8.7" fill="#000" stroke="#000" textLength="23.3" lengthAdjust="spacingAndGlyphs">.75 WT</text>
<text class="t" x="467.3" y="332.1" font-size="9.5" fill="#000" stroke="#000" textLength="3.9" lengthAdjust="spacingAndGlyphs">6</text>
<line x1="478.2" y1="307.5" x2="478.2" y2="332.0" stroke="#000" stroke-width="1.6" stroke-linecap="butt"/>
<line x1="484.6" y1="307.5" x2="484.6" y2="332.0" stroke="#000" stroke-width="1.6" stroke-linecap="butt"/>
<path d="M478.2,308.5 Q478,306 475.6,305" stroke="#000" stroke-width="1.6" fill="none" stroke-linejoin="miter" stroke-linecap="butt"/>
<path d="M484.6,308.5 Q484.8,306 487.6,305" stroke="#000" stroke-width="1.6" fill="none" stroke-linejoin="miter" stroke-linecap="butt"/>
<path d="M478.2,331 Q478,333.6 475,334.6" stroke="#000" stroke-width="1.6" fill="none" stroke-linejoin="miter" stroke-linecap="butt"/>
<path d="M484.6,331 Q484.8,333.6 488,334.6" stroke="#000" stroke-width="1.6" fill="none" stroke-linejoin="miter" stroke-linecap="butt"/>
<rect x="518.4" y="80.4" width="63.7" height="53.5" fill="none" stroke="#000" stroke-width="2.0" stroke-dasharray="7.7 2.8"/>
<circle cx="551.7" cy="104.0" r="16.5" fill="none" stroke="#000" stroke-width="1.8"/>
<line x1="542.2" y1="104.8" x2="561.2" y2="104.8" stroke="#666" stroke-width="1.3" stroke-linecap="butt"/>
<line x1="551.7" y1="104.8" x2="551.7" y2="125.5" stroke="#000" stroke-width="1.6" stroke-linecap="butt"/>
<line x1="538.1" y1="92.8" x2="547.1" y2="104.6" stroke="#000" stroke-width="1.5" stroke-linecap="butt"/>
<line x1="565.7" y1="93.2" x2="556.5" y2="104.6" stroke="#000" stroke-width="1.5" stroke-linecap="butt"/>
<line x1="534.5" y1="92.4" x2="540.1" y2="92.4" stroke="#000" stroke-width="1.8" stroke-linecap="butt"/>
<line x1="562.7" y1="93.4" x2="568.9" y2="93.4" stroke="#000" stroke-width="1.8" stroke-linecap="butt"/>
<text class="t" x="550.4" y="130.2" font-size="5.0" fill="#000" stroke="#000" textLength="3.2" lengthAdjust="spacingAndGlyphs">C</text>
<text class="t" x="588.0" y="84.6" font-size="7.0" fill="#000" stroke="#000" textLength="9.5" lengthAdjust="spacingAndGlyphs">A6</text>
<line x1="587.5" y1="86.8" x2="598.0" y2="86.8" stroke="#000" stroke-width="1.4"/>
<text class="t" x="588.0" y="99.1" font-size="9.8" fill="#000" stroke="#000" textLength="60.6" lengthAdjust="spacingAndGlyphs">HALL EFFECT</text>
<line x1="587.5" y1="101.8" x2="649.1" y2="101.8" stroke="#000" stroke-width="1.4"/>
<text class="t" x="588.0" y="111.6" font-size="9.8" fill="#000" stroke="#000" textLength="64.7" lengthAdjust="spacingAndGlyphs">SPEED SENSOR</text>
<line x1="587.5" y1="114.3" x2="653.2" y2="114.3" stroke="#000" stroke-width="1.4"/>
<path d="M548.7,135.6 Q554.8,143.1 560.9,135.6 L560.6,137.4 Q557.9,139.8 557.3,144.3 L552.3,144.3 Q551.7,139.8 549.0,137.4 Z" stroke="#000" stroke-width="0.5" fill="#000" stroke-linejoin="round" stroke-linecap="butt"/>
<path d="M554.0,142.5 L555.6,178.5" stroke="#000" stroke-width="5.0" fill="none" stroke-linejoin="miter" stroke-linecap="butt"/>
<line x1="552.7" y1="148.6" x2="556.3" y2="157.4" stroke="#fff" stroke-width="1.2" stroke-linecap="butt"/>
<text class="t" x="565.0" y="143.6" font-size="7.5" fill="#000" stroke="#000" textLength="8.8" lengthAdjust="spacingAndGlyphs">x1</text>
<line x1="564.5" y1="146.8" x2="574.3" y2="146.8" stroke="#000" stroke-width="1.4"/>
<text class="t" x="513.0" y="162.6" font-size="9.5" fill="#000" stroke="#000" textLength="33.0" lengthAdjust="spacingAndGlyphs">1 GN YL</text>
<rect x="529.0" y="178.4" width="52.2" height="39.8" fill="none" stroke="#000" stroke-width="1.9" stroke-dasharray="7.7 2.8"/>
<text class="t" x="586.0" y="184.6" font-size="8.7" fill="#000" stroke="#000" textLength="22.8" lengthAdjust="spacingAndGlyphs">X53 5</text>
<line x1="585.5" y1="186.8" x2="609.3" y2="186.8" stroke="#000" stroke-width="1.4"/>
<line x1="555.6" y1="178.0" x2="555.6" y2="217.0" stroke="#000" stroke-width="1.4" stroke-linecap="butt"/>
<circle cx="555.6" cy="198.0" r="2.0" fill="#000"/>
<line x1="533.0" y1="198.0" x2="578.0" y2="198.0" stroke="#000" stroke-width="1.3" stroke-dasharray="6 3" stroke-linecap="butt"/>
<path d="M536.5,194.5 L532.5,198 L536.5,201.5" stroke="#000" stroke-width="1.3" fill="none" stroke-linejoin="miter" stroke-linecap="butt"/>
<path d="M574.5,194.5 L578.5,198 L574.5,201.5" stroke="#000" stroke-width="1.3" fill="none" stroke-linejoin="miter" stroke-linecap="butt"/>
<path d="M552.4,215.3 L555.6,219.5 L558.8,215.3" stroke="#000" stroke-width="1.3" fill="none" stroke-linejoin="miter" stroke-linecap="butt"/>
<path d="M527,193.5 Q523,198 527,202.5" stroke="#000" stroke-width="1.8" fill="none" stroke-linejoin="miter" stroke-linecap="butt"/>
<path d="M584,193.5 Q588,198 584,202.5" stroke="#000" stroke-width="1.8" fill="none" stroke-linejoin="miter" stroke-linecap="butt"/>
<path d="M524,195.4 L476.5,195.4 L476.5,222" stroke="#000" stroke-width="1.6" fill="none" stroke-linejoin="miter" stroke-linecap="butt"/>
<path d="M524,201 L482.6,201 L482.6,222" stroke="#000" stroke-width="1.6" fill="none" stroke-linejoin="miter" stroke-linecap="butt"/>
<polygon points="472.5,221.0 485.8,221.0 479.3,233.3" fill="#000"/>
<text class="t" x="446.0" y="212.1" font-size="9.1" fill="#000" stroke="#000" textLength="23.0" lengthAdjust="spacingAndGlyphs">.75 WT</text>
<text class="t" x="457.5" y="246.6" font-size="9.8" fill="#000" stroke="#000" textLength="41.5" lengthAdjust="spacingAndGlyphs">WARNING</text>
<text class="t" x="457.5" y="260.6" font-size="9.5" fill="#000" stroke="#000" textLength="56.5" lengthAdjust="spacingAndGlyphs">INDICATORS,</text>
<path d="M588.0,198.2 L640.0,198.2 L640.0,225.0" stroke="#000" stroke-width="5.6" fill="none" stroke-linejoin="miter" stroke-linecap="butt"/>
<line x1="591.0" y1="200.6" x2="606.0" y2="195.8" stroke="#fff" stroke-width="1.6" stroke-linecap="butt"/>
<line x1="614.0" y1="200.6" x2="629.0" y2="195.8" stroke="#fff" stroke-width="1.6" stroke-linecap="butt"/>
<line x1="638.2" y1="204.2" x2="641.8" y2="213.2" stroke="#fff" stroke-width="1.2" stroke-linecap="butt"/>
<polygon points="633.6,223.8 646.6,223.8 640.1,235.6" fill="#000"/>
<text class="t" x="592.5" y="215.4" font-size="9.2" fill="#000" stroke="#000" textLength="38.5" lengthAdjust="spacingAndGlyphs">.75 GN-YL</text>
<text class="t" x="624.4" y="249.1" font-size="9.1" fill="#000" stroke="#000" textLength="31.9" lengthAdjust="spacingAndGlyphs">CRUISE</text>
<text class="t" x="624.4" y="262.6" font-size="9.8" fill="#000" stroke="#000" textLength="45.6" lengthAdjust="spacingAndGlyphs">CONTROL,</text>
<line x1="553.2" y1="223.0" x2="553.2" y2="249.0" stroke="#000" stroke-width="1.6" stroke-linecap="butt"/>
<line x1="560.0" y1="223.0" x2="560.0" y2="249.0" stroke="#000" stroke-width="1.6" stroke-linecap="butt"/>
<path d="M553.2,224 Q552.8,221.5 550,220.5" stroke="#000" stroke-width="1.5" fill="none" stroke-linejoin="miter" stroke-linecap="butt"/>
<path d="M560,224 Q560.4,221.5 563.2,220.5" stroke="#000" stroke-width="1.5" fill="none" stroke-linejoin="miter" stroke-linecap="butt"/>
<path d="M550,252.2 Q552.8,249 553.2,247" stroke="#000" stroke-width="2.0" fill="none" stroke-linejoin="miter" stroke-linecap="butt"/>
<path d="M563.2,252.2 Q560.4,249 560,247" stroke="#000" stroke-width="2.0" fill="none" stroke-linejoin="miter" stroke-linecap="butt"/>
<path d="M549.4,256.4 Q556.6,252.4 563.8,256.4" stroke="#000" stroke-width="2.3" fill="none" stroke-linejoin="miter" stroke-linecap="round"/>
<line x1="553.2" y1="254.5" x2="553.2" y2="291.0" stroke="#000" stroke-width="1.6" stroke-linecap="butt"/>
<line x1="560.0" y1="254.5" x2="560.0" y2="291.0" stroke="#000" stroke-width="1.6" stroke-linecap="butt"/>
<path d="M553.2,290 Q552.8,293.5 549.8,295" stroke="#000" stroke-width="1.6" fill="none" stroke-linejoin="miter" stroke-linecap="butt"/>
<path d="M560,290 Q560.4,293.5 563.6,295" stroke="#000" stroke-width="1.6" fill="none" stroke-linejoin="miter" stroke-linecap="butt"/>
<text class="t" x="523.8" y="238.4" font-size="9.2" fill="#000" stroke="#000" textLength="22.2" lengthAdjust="spacingAndGlyphs">.75 WT</text>
<text class="t" x="569.0" y="252.1" font-size="8.9" fill="#000" stroke="#000" textLength="23.5" lengthAdjust="spacingAndGlyphs">X53 6</text>
<line x1="568.5" y1="255.0" x2="593.0" y2="255.0" stroke="#000" stroke-width="1.4"/>
<text class="t" x="523.8" y="276.6" font-size="9.1" fill="#000" stroke="#000" textLength="23.7" lengthAdjust="spacingAndGlyphs">.75 WT</text>
<rect x="856.7" y="82.9" width="61.7" height="53.0" fill="none" stroke="#000" stroke-width="2.0" stroke-dasharray="7.7 2.8"/>
<text class="t" x="880.8" y="118.9" font-size="8.4" fill="#000" stroke="#000" textLength="10.0" lengthAdjust="spacingAndGlyphs">TD</text>
<text class="t" x="863.0" y="130.9" font-size="8.7" fill="#000" stroke="#000" textLength="49.0" lengthAdjust="spacingAndGlyphs">RPM OUTPUT</text>
<path d="M883.2,138.4 Q889.3,146.1 895.4,138.4 L895.1,140.2 Q892.4,142.7 891.8,147.3 L886.8,147.3 Q886.2,142.7 883.5,140.2 Z" stroke="#000" stroke-width="0.5" fill="#000" stroke-linejoin="round" stroke-linecap="butt"/>
<path d="M889.3,146.0 L889.3,162.0" stroke="#000" stroke-width="4.6" fill="none" stroke-linejoin="miter" stroke-linecap="butt"/>
<text class="t" x="843.3" y="152.9" font-size="9.8" fill="#000" stroke="#000" textLength="38.0" lengthAdjust="spacingAndGlyphs">.75 GN-YL</text>
<text class="t" x="900.0" y="147.1" font-size="8.4" fill="#000" stroke="#000" textLength="8.8" lengthAdjust="spacingAndGlyphs">x2</text>
<line x1="899.5" y1="150.0" x2="909.3" y2="150.0" stroke="#000" stroke-width="1.4"/>
<rect x="867.4" y="161.7" width="42.7" height="23.4" fill="none" stroke="#000" stroke-width="1.7" stroke-dasharray="7.7 2.8"/>
<text class="t" x="871.3" y="177.1" font-size="7.7" fill="#000" stroke="#000" textLength="10.0" lengthAdjust="spacingAndGlyphs">TD</text>
<line x1="889.3" y1="161.0" x2="889.3" y2="186.0" stroke="#000" stroke-width="1.6" stroke-linecap="butt"/>
<circle cx="889.3" cy="174.3" r="4.4" fill="#fff" stroke="#000" stroke-width="1.4"/>
<path d="M889.5,185.5 L890.2,247.5" stroke="#000" stroke-width="5.0" fill="none" stroke-linejoin="miter" stroke-linecap="butt"/>
<line x1="888.0" y1="191.5" x2="891.3" y2="200.5" stroke="#fff" stroke-width="1.2" stroke-linecap="butt"/>
<line x1="888.2" y1="215.5" x2="891.5" y2="224.5" stroke="#fff" stroke-width="1.2" stroke-linecap="butt"/>
<text class="t" x="925.0" y="87.1" font-size="8.7" fill="#000" stroke="#000" textLength="18.8" lengthAdjust="spacingAndGlyphs">N1/2</text>
<line x1="924.5" y1="90.0" x2="944.3" y2="90.0" stroke="#000" stroke-width="1.4"/>
<text class="t" x="925.0" y="101.6" font-size="10.9" fill="#000" stroke="#000" textLength="57.0" lengthAdjust="spacingAndGlyphs">ELECTRONIC</text>
<line x1="924.5" y1="104.5" x2="982.5" y2="104.5" stroke="#000" stroke-width="1.4"/>
<text class="t" x="925.0" y="115.1" font-size="11.2" fill="#000" stroke="#000" textLength="41.3" lengthAdjust="spacingAndGlyphs">IGNITION</text>
<line x1="924.5" y1="118.0" x2="966.8" y2="118.0" stroke="#000" stroke-width="1.4"/>
<text class="t" x="925.0" y="128.4" font-size="10.5" fill="#000" stroke="#000" textLength="42.0" lengthAdjust="spacingAndGlyphs">CONTROL</text>
<line x1="924.5" y1="131.3" x2="967.5" y2="131.3" stroke="#000" stroke-width="1.4"/>
<text class="t" x="925.0" y="142.1" font-size="11.2" fill="#000" stroke="#000" textLength="48.8" lengthAdjust="spacingAndGlyphs">UNIT II (ZL)</text>
<line x1="924.5" y1="145.0" x2="946.0" y2="145.0" stroke="#000" stroke-width="1.4"/>
<text class="t" x="993.8" y="95.9" font-size="10.3" fill="#000" stroke="#000" textLength="48.7" lengthAdjust="spacingAndGlyphs">x1 • 4 POLE</text>
<text class="t" x="995.5" y="110.1" font-size="10.3" fill="#000" stroke="#000" textLength="48.3" lengthAdjust="spacingAndGlyphs">x2 - 4 POLE</text>
<text class="t" x="915.0" y="159.6" font-size="8.7" fill="#000" stroke="#000" textLength="14.5" lengthAdjust="spacingAndGlyphs">X11</text>
<line x1="914.5" y1="162.0" x2="930.0" y2="162.0" stroke="#000" stroke-width="1.4"/>
<text class="t" x="915.0" y="173.9" font-size="10.5" fill="#000" stroke="#000" textLength="55.0" lengthAdjust="spacingAndGlyphs">DIAGNOSTIC</text>
<line x1="914.5" y1="176.3" x2="970.5" y2="176.3" stroke="#000" stroke-width="1.4"/>
<text class="t" x="915.0" y="187.1" font-size="10.5" fill="#000" stroke="#000" textLength="36.3" lengthAdjust="spacingAndGlyphs">SOCKET,</text>
<line x1="914.5" y1="190.0" x2="951.8" y2="190.0" stroke="#000" stroke-width="1.4"/>
<text class="t" x="915.0" y="200.9" font-size="10.5" fill="#000" stroke="#000" textLength="46.3" lengthAdjust="spacingAndGlyphs">TERMINAL</text>
<line x1="914.5" y1="203.8" x2="961.8" y2="203.8" stroke="#000" stroke-width="1.4"/>
<text class="t" x="915.0" y="214.6" font-size="10.5" fill="#000" stroke="#000" textLength="28.8" lengthAdjust="spacingAndGlyphs">BLOCK</text>
<line x1="914.5" y1="217.5" x2="944.3" y2="217.5" stroke="#000" stroke-width="1.4"/>
<rect x="711.7" y="175.4" width="62.9" height="53.7" fill="none" stroke="#000" stroke-width="2.0" stroke-dasharray="7.7 2.8"/>
<text class="t" x="779.5" y="162.6" font-size="10.1" fill="#000" stroke="#000" textLength="21.0" lengthAdjust="spacingAndGlyphs">FUEL</text>
<line x1="779.0" y1="165.5" x2="801.0" y2="165.5" stroke="#000" stroke-width="1.4"/>
<circle cx="818.6" cy="159.5" r="6.1" fill="#fff" stroke="#000" stroke-width="1.8"/>
<text class="t" x="817.0" y="162.2" font-size="7.0" fill="#000" stroke="#000" textLength="3.6" lengthAdjust="spacingAndGlyphs">2</text>
<text class="t" x="779.5" y="175.1" font-size="9.5" fill="#000" stroke="#000" textLength="24.3" lengthAdjust="spacingAndGlyphs">PUMP</text>
<line x1="779.0" y1="177.5" x2="804.3" y2="177.5" stroke="#000" stroke-width="1.4"/>
<text class="t" x="779.5" y="189.1" font-size="10.5" fill="#000" stroke="#000" textLength="30.5" lengthAdjust="spacingAndGlyphs">RELAY</text>
<line x1="779.0" y1="192.0" x2="810.5" y2="192.0" stroke="#000" stroke-width="1.4"/>
<text class="t" x="778.8" y="204.1" font-size="8.7" fill="#000" stroke="#000" textLength="7.5" lengthAdjust="spacingAndGlyphs">10</text>
<text class="t" x="793.8" y="207.1" font-size="10.5" fill="#000" stroke="#000" textLength="38.2" lengthAdjust="spacingAndGlyphs">.75 GN YL</text>
<text class="t" x="761.5" y="216.6" font-size="8.1" fill="#000" stroke="#000" textLength="9.5" lengthAdjust="spacingAndGlyphs">TD</text>
<path d="M777.5,208 Q782.5,212 787.5,213.6 Q782.5,215.5 777.5,219.5" stroke="#000" stroke-width="3.2" fill="none" stroke-linejoin="miter" stroke-linecap="butt"/>
<path d="M783.5,213.8 L856.0,212.6 L888.0,245.5" stroke="#000" stroke-width="5.0" fill="none" stroke-linejoin="miter" stroke-linecap="butt"/>
<line x1="786.5" y1="215.9" x2="801.5" y2="211.4" stroke="#fff" stroke-width="1.6" stroke-linecap="butt"/>
<line x1="809.5" y1="215.5" x2="824.5" y2="211.0" stroke="#fff" stroke-width="1.6" stroke-linecap="butt"/>
<line x1="832.5" y1="215.1" x2="847.5" y2="210.6" stroke="#fff" stroke-width="1.6" stroke-linecap="butt"/>
<line x1="859.0" y1="218.0" x2="867.6" y2="222.2" stroke="#fff" stroke-width="1.2" stroke-linecap="butt"/>
<line x1="875.8" y1="235.2" x2="884.3" y2="239.4" stroke="#fff" stroke-width="1.2" stroke-linecap="butt"/>
<text class="t" x="844.3" y="202.1" font-size="10.5" fill="#000" stroke="#000" textLength="38.2" lengthAdjust="spacingAndGlyphs">.75 GN YL</text>
<rect x="713.4" y="248.7" width="61.2" height="53.4" fill="none" stroke="#000" stroke-width="2.0" stroke-dasharray="7.7 2.8"/>
<text class="t" x="779.5" y="240.1" font-size="7.7" fill="#000" stroke="#000" textLength="10.5" lengthAdjust="spacingAndGlyphs">N6</text>
<line x1="779.0" y1="242.5" x2="790.5" y2="242.5" stroke="#000" stroke-width="1.4"/>
<text class="t" x="779.5" y="254.6" font-size="11.2" fill="#000" stroke="#000" textLength="78.5" lengthAdjust="spacingAndGlyphs">A.C COMPRESSOR</text>
<line x1="779.0" y1="257.5" x2="858.5" y2="257.5" stroke="#000" stroke-width="1.4"/>
<text class="t" x="779.5" y="268.4" font-size="11.2" fill="#000" stroke="#000" textLength="68.5" lengthAdjust="spacingAndGlyphs">CONTROL UNIT</text>
<line x1="779.0" y1="271.3" x2="848.5" y2="271.3" stroke="#000" stroke-width="1.4"/>
<text class="t" x="780.5" y="281.6" font-size="9.1" fill="#000" stroke="#000" textLength="4.0" lengthAdjust="spacingAndGlyphs">7</text>
<text class="t" x="797.5" y="284.1" font-size="10.5" fill="#000" stroke="#000" textLength="39.5" lengthAdjust="spacingAndGlyphs">.75 GN/YL</text>
<text class="t" x="761.5" y="294.9" font-size="8.1" fill="#000" stroke="#000" textLength="9.5" lengthAdjust="spacingAndGlyphs">TD</text>
<path d="M777.5,284.5 Q782.5,288.3 787.5,289.8 Q782.5,291.5 777.5,295.8" stroke="#000" stroke-width="3.2" fill="none" stroke-linejoin="miter" stroke-linecap="butt"/>
<path d="M783.5,290.0 L852.0,289.0 L888.5,250.0" stroke="#000" stroke-width="5.0" fill="none" stroke-linejoin="miter" stroke-linecap="butt"/>
<line x1="786.5" y1="292.1" x2="801.5" y2="287.6" stroke="#fff" stroke-width="1.6" stroke-linecap="butt"/>
<line x1="809.5" y1="291.7" x2="824.5" y2="287.3" stroke="#fff" stroke-width="1.6" stroke-linecap="butt"/>
<line x1="832.5" y1="291.4" x2="847.5" y2="287.0" stroke="#fff" stroke-width="1.6" stroke-linecap="butt"/>
<line x1="857.3" y1="285.7" x2="861.1" y2="277.0" stroke="#fff" stroke-width="1.2" stroke-linecap="butt"/>
<line x1="873.7" y1="268.2" x2="877.5" y2="259.4" stroke="#fff" stroke-width="1.2" stroke-linecap="butt"/>
<text class="t" x="843.8" y="305.1" font-size="10.5" fill="#000" stroke="#000" textLength="38.7" lengthAdjust="spacingAndGlyphs">.75 GN/YL</text>
<path d="M890.5,247.5 L890.6,327.0" stroke="#000" stroke-width="5.2" fill="none" stroke-linejoin="miter" stroke-linecap="butt"/>
<line x1="888.8" y1="253.5" x2="892.2" y2="262.5" stroke="#fff" stroke-width="1.2" stroke-linecap="butt"/>
<line x1="888.9" y1="277.5" x2="892.2" y2="286.5" stroke="#fff" stroke-width="1.2" stroke-linecap="butt"/>
<line x1="888.9" y1="301.5" x2="892.2" y2="310.5" stroke="#fff" stroke-width="1.2" stroke-linecap="butt"/>
<path d="M884.1,333.9 Q890.7,325.4 897.3,333.9 L897.0,332.1 Q893.8,329.2 893.2,324.2 L888.2,324.2 Q887.6,329.2 884.4,332.1 Z" stroke="#000" stroke-width="0.5" fill="#000" stroke-linejoin="round" stroke-linecap="butt"/>
<text class="t" x="873.8" y="330.9" font-size="9.5" fill="#000" stroke="#000" textLength="8.7" lengthAdjust="spacingAndGlyphs">25</text>
<path d="M896.0,248.6 L972.0,246.2" stroke="#000" stroke-width="4.6" fill="none" stroke-linejoin="miter" stroke-linecap="butt"/>
<line x1="899.1" y1="250.4" x2="913.9" y2="246.1" stroke="#fff" stroke-width="1.6" stroke-linecap="butt"/>
<line x1="922.0" y1="249.7" x2="936.9" y2="245.4" stroke="#fff" stroke-width="1.6" stroke-linecap="butt"/>
<line x1="945.0" y1="249.0" x2="959.9" y2="244.6" stroke="#fff" stroke-width="1.6" stroke-linecap="butt"/>
<path d="M977,240.5 Q972,244 967.5,246.2 Q972,248.5 977,252" stroke="#000" stroke-width="3.2" fill="none" stroke-linejoin="miter" stroke-linecap="butt"/>
<circle cx="890.5" cy="247.8" r="7.0" fill="#fff"/>
<circle cx="890.5" cy="247.8" r="5.0" fill="#000"/>
<text class="t" x="898.8" y="262.1" font-size="9.5" fill="#000" stroke="#000" textLength="22.5" lengthAdjust="spacingAndGlyphs">X48.1</text>
<line x1="898.3" y1="266.3" x2="921.8" y2="266.3" stroke="#000" stroke-width="1.4"/>
<text class="t" x="905.5" y="239.6" font-size="8.7" fill="#000" stroke="#000" textLength="6.5" lengthAdjust="spacingAndGlyphs">. 7</text>
<text class="t" x="925.5" y="238.9" font-size="9.5" fill="#000" stroke="#000" textLength="35.8" lengthAdjust="spacingAndGlyphs">.75 GN YL</text>
<text class="t" x="967.0" y="264.6" font-size="8.7" fill="#000" stroke="#000" textLength="8.0" lengthAdjust="spacingAndGlyphs">x3</text>
<line x1="966.5" y1="267.2" x2="975.5" y2="267.2" stroke="#000" stroke-width="1.4"/>
<rect x="979.9" y="220.4" width="62.7" height="53.0" fill="none" stroke="#000" stroke-width="2.0" stroke-dasharray="7.7 2.8"/>
<text class="t" x="984.5" y="232.6" font-size="7.7" fill="#000" stroke="#000" textLength="8.0" lengthAdjust="spacingAndGlyphs">P7</text>
<text class="t" x="984.5" y="244.6" font-size="9.8" fill="#000" stroke="#000" textLength="29.3" lengthAdjust="spacingAndGlyphs">CLOCK/</text>
<text class="t" x="984.5" y="257.1" font-size="9.8" fill="#000" stroke="#000" textLength="53.5" lengthAdjust="spacingAndGlyphs">TACHOMETER</text>
<text class="t" x="984.5" y="268.4" font-size="8.7" fill="#000" stroke="#000" textLength="9.3" lengthAdjust="spacingAndGlyphs">TD</text>
<text class="t" x="1048.0" y="225.9" font-size="9.5" fill="#000" stroke="#000" textLength="10.0" lengthAdjust="spacingAndGlyphs">A1</text>
<line x1="1047.5" y1="228.8" x2="1058.5" y2="228.8" stroke="#000" stroke-width="1.4"/>
<text class="t" x="1048.0" y="240.1" font-size="11.2" fill="#000" stroke="#000" textLength="58.3" lengthAdjust="spacingAndGlyphs">INSTRUMENT</text>
<line x1="1047.5" y1="243.0" x2="1106.8" y2="243.0" stroke="#000" stroke-width="1.4"/>
<text class="t" x="1048.0" y="253.4" font-size="10.5" fill="#000" stroke="#000" textLength="40.8" lengthAdjust="spacingAndGlyphs">CLUSTER</text>
<line x1="1047.5" y1="256.8" x2="1089.3" y2="256.8" stroke="#000" stroke-width="1.4"/>
<text class="t" x="1052.3" y="272.4" font-size="10.1" fill="#000" stroke="#000" textLength="53.7" lengthAdjust="spacingAndGlyphs">x1 • 16 POLE</text>
<text class="t" x="1052.3" y="285.6" font-size="10.3" fill="#000" stroke="#000" textLength="48.2" lengthAdjust="spacingAndGlyphs">x2 - 4 POLE</text>
<text class="t" x="1052.3" y="298.9" font-size="10.3" fill="#000" stroke="#000" textLength="49.0" lengthAdjust="spacingAndGlyphs">x3 • 2 POLE</text>
<text class="t" x="1052.3" y="312.4" font-size="10.3" fill="#000" stroke="#000" textLength="49.0" lengthAdjust="spacingAndGlyphs">x4 • 1 POLE</text>
<text class="t" x="1052.3" y="325.8" font-size="10.3" fill="#000" stroke="#000" textLength="50.0" lengthAdjust="spacingAndGlyphs">x5 • 3 POLE</text>
<path d="M91.3,785.6 L1136.8,784.9 L1136.8,857.2 L91.3,858 Z" stroke="#000" stroke-width="1.6" fill="none" stroke-linejoin="miter" stroke-linecap="butt"/>
<text class="tn" x="97.1" y="801.3" font-size="11.5" fill="#000" stroke="#000" textLength="65.0" lengthAdjust="spacingAndGlyphs">REVISIONS</text>
<text class="t" x="196.3" y="802.1" font-size="8.9" fill="#000" stroke="#000" textLength="12.5" lengthAdjust="spacingAndGlyphs">(1)</text>
<text class="t" x="215.0" y="802.3" font-size="9.5" fill="#000" stroke="#000" textLength="98.8" lengthAdjust="spacingAndGlyphs">SPLICE LOCATED INSIDE</text>
<text class="t" x="215.0" y="818.1" font-size="9.8" fill="#000" stroke="#000" textLength="140.0" lengthAdjust="spacingAndGlyphs">CIS E CONTROL UNIT CONNECTOR</text>
<text class="t" x="196.3" y="833.1" font-size="8.9" fill="#000" stroke="#000" textLength="12.5" lengthAdjust="spacingAndGlyphs">(2)</text>
<text class="t" x="215.0" y="833.6" font-size="9.5" fill="#000" stroke="#000" textLength="226.0" lengthAdjust="spacingAndGlyphs">N16/3 FUEL PUMP RELAY (MANUAL TRANSMISSION)</text>
<text class="t" x="215.0" y="848.9" font-size="9.8" fill="#000" stroke="#000" textLength="238.4" lengthAdjust="spacingAndGlyphs">N16/4 FUEL PUMP RELAY (AUTOMATIC TRANSMISSION)</text>
<text class="t" x="481.8" y="802.6" font-size="8.4" fill="#000" stroke="#000" textLength="3.7" lengthAdjust="spacingAndGlyphs">3</text>
<text class="t" x="494.5" y="802.6" font-size="8.4" fill="#000" stroke="#000" textLength="38.0" lengthAdjust="spacingAndGlyphs">MY 1987</text>
<text class="t" x="481.8" y="818.1" font-size="8.4" fill="#000" stroke="#000" textLength="3.7" lengthAdjust="spacingAndGlyphs">4</text>
<text class="t" x="494.5" y="818.1" font-size="8.8" fill="#000" stroke="#000" textLength="64.8" lengthAdjust="spacingAndGlyphs">AS OF MY 1988</text>
<text class="t" x="481.8" y="832.9" font-size="8.4" fill="#000" stroke="#000" textLength="3.7" lengthAdjust="spacingAndGlyphs">5</text>
<text class="t" x="494.5" y="832.9" font-size="8.8" fill="#000" stroke="#000" textLength="172.0" lengthAdjust="spacingAndGlyphs">R17/1 NO LONGER USED AS OF MY 1988</text>
<text class="t" x="481.8" y="848.6" font-size="8.4" fill="#000" stroke="#000" textLength="3.7" lengthAdjust="spacingAndGlyphs">6</text>
<text class="t" x="494.5" y="848.6" font-size="8.8" fill="#000" stroke="#000" textLength="121.5" lengthAdjust="spacingAndGlyphs">CALIFORNIA AS OF MY 1988</text>
<text class="t" x="697.8" y="801.1" font-size="8.4" fill="#000" stroke="#000" textLength="3.7" lengthAdjust="spacingAndGlyphs">7</text>
<text class="t" x="710.0" y="801.1" font-size="8.8" fill="#000" stroke="#000" textLength="188.0" lengthAdjust="spacingAndGlyphs">FOR CALIFORNIA VERSIONS AS OF MY 1988</text>
</svg>
</body>
</html>
